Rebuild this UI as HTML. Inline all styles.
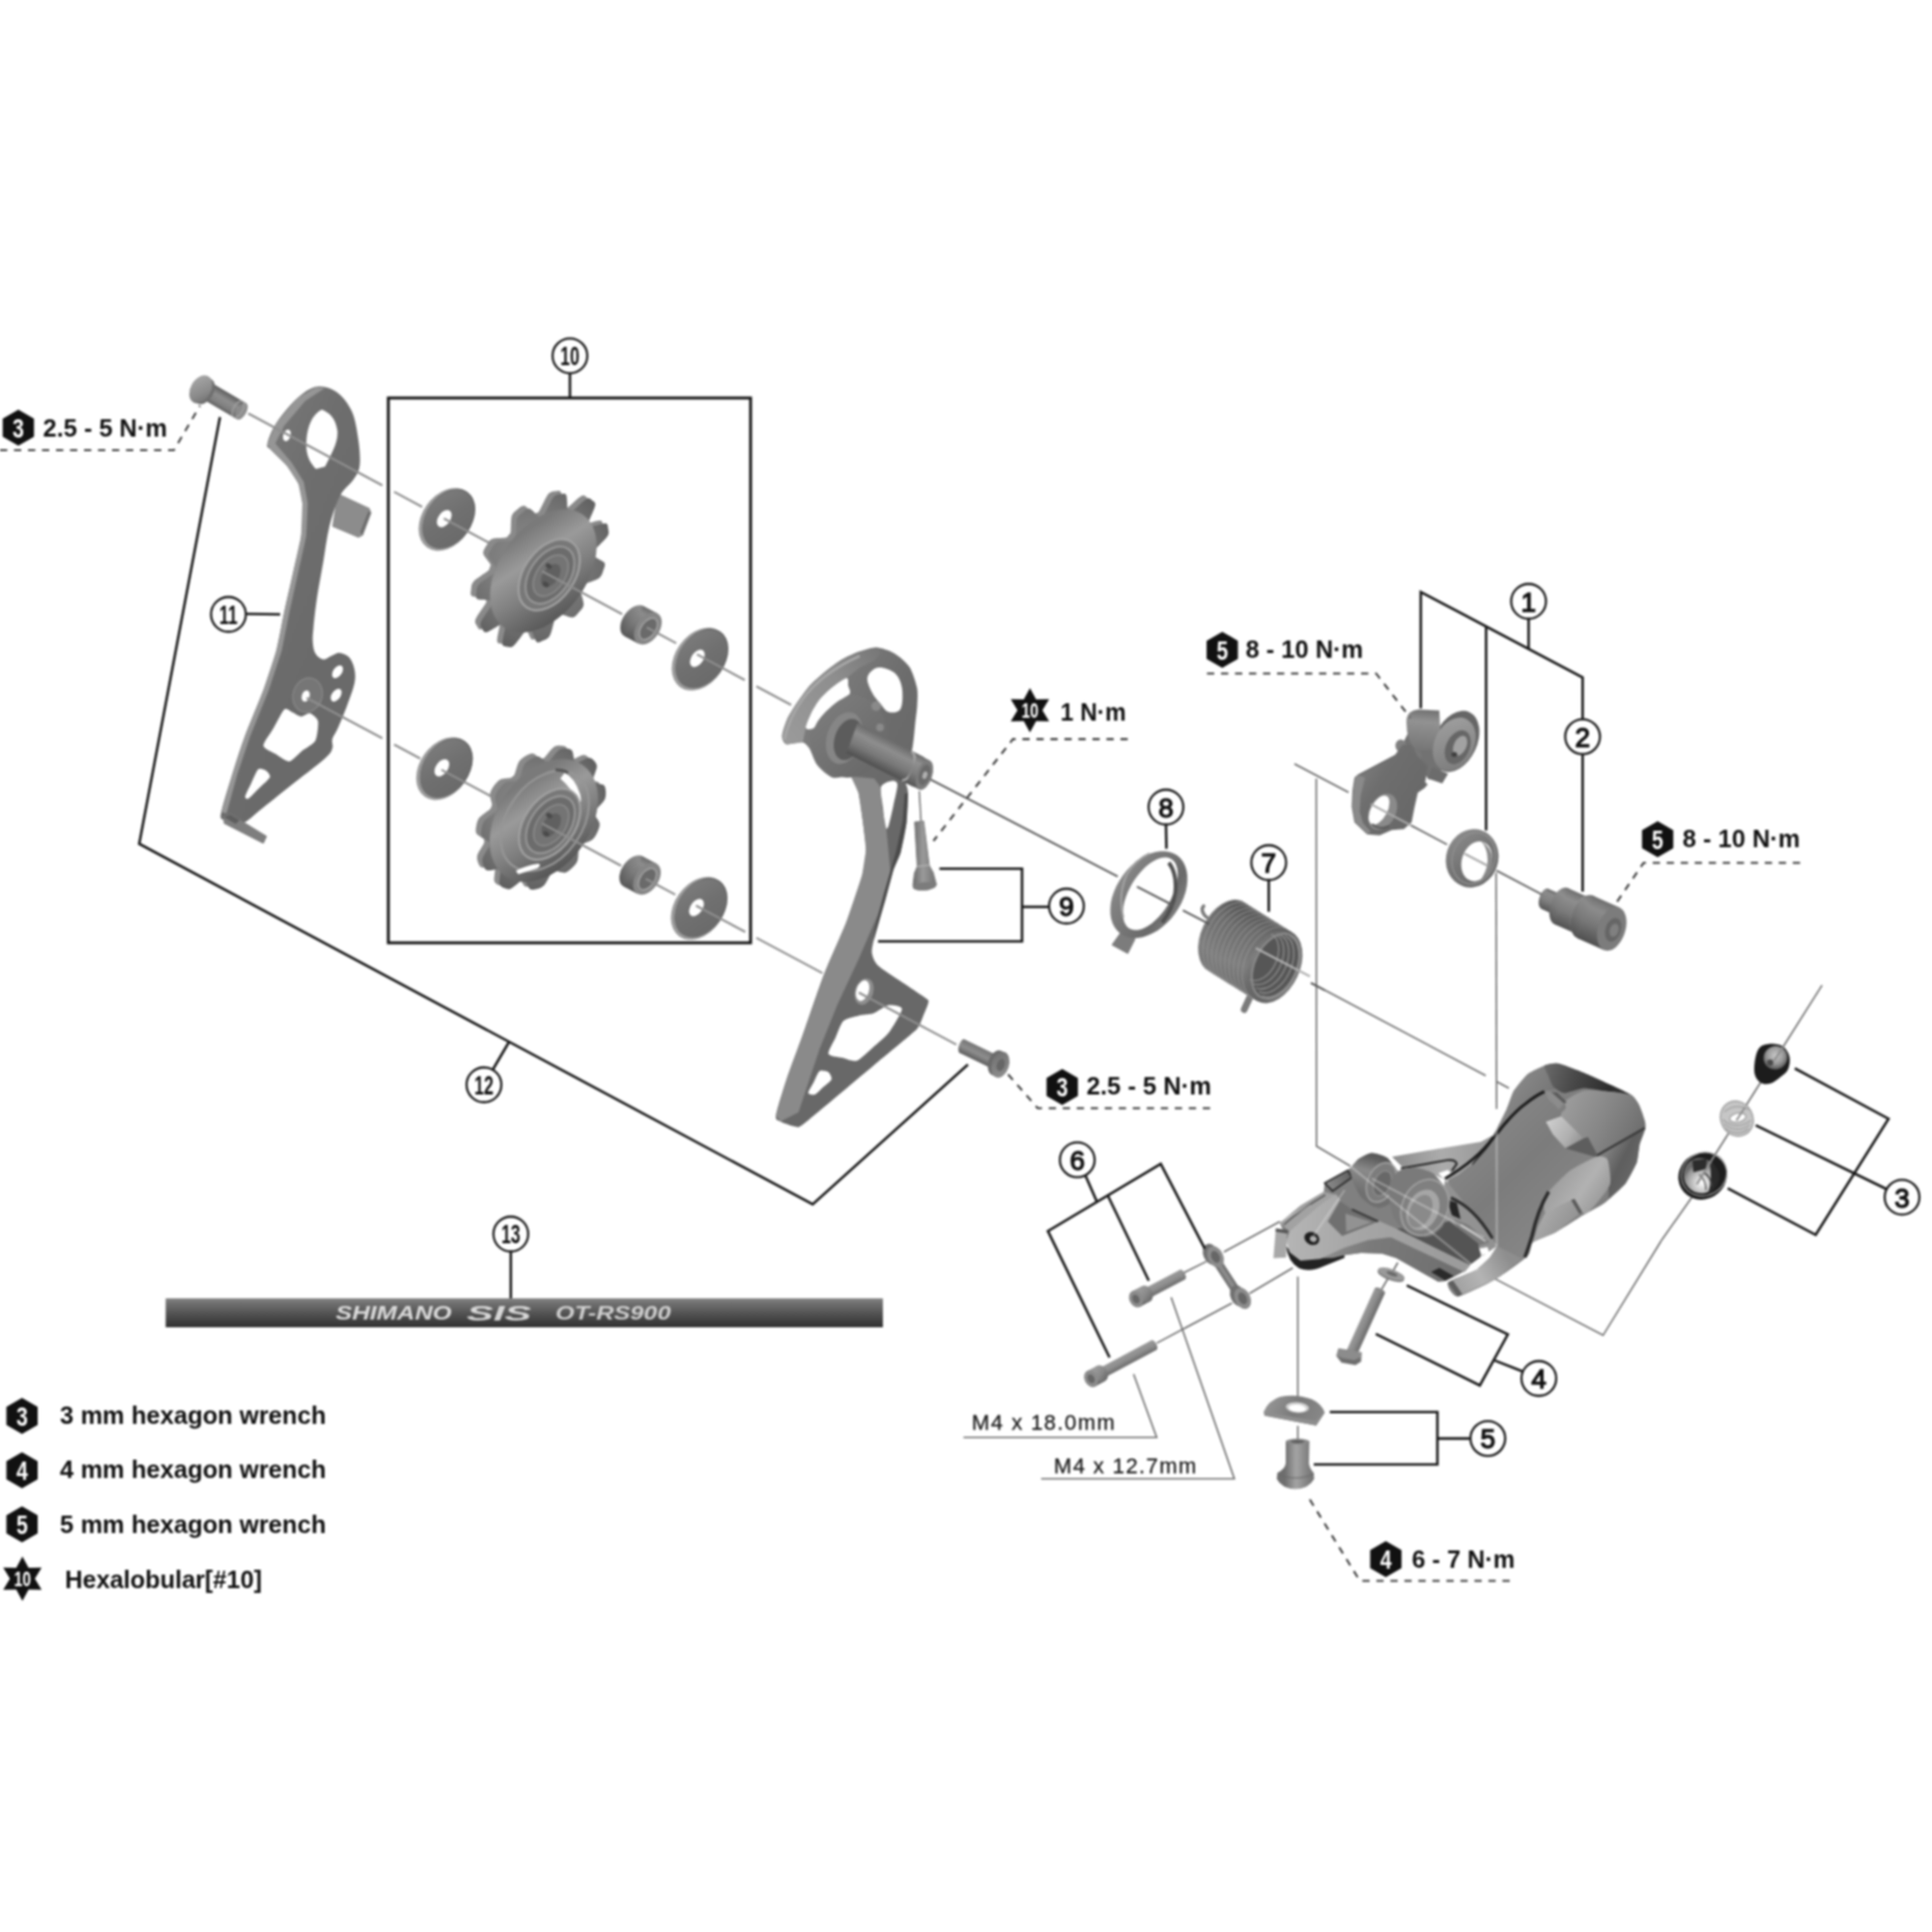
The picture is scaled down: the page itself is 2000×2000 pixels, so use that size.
<!DOCTYPE html>
<html><head><meta charset="utf-8"><title>Rear derailleur exploded view</title>
<style>html,body{margin:0;padding:0;background:#fff}svg{display:block;font-family:"Liberation Sans",sans-serif}</style>
</head><body>
<svg width="2000" height="2000" viewBox="0 0 2000 2000">
<defs><filter id="soft" x="-2%" y="-2%" width="104%" height="104%" color-interpolation-filters="sRGB"><feGaussianBlur stdDeviation="0.8"/></filter>
<linearGradient id="gbtl" gradientUnits="userSpaceOnUse" x1="209.1" y1="412.8" x2="218.9" y2="396.2"><stop offset="0" stop-color="#5e5e5e"/><stop offset="0.25" stop-color="#808080"/><stop offset="0.6" stop-color="#8e8e8e"/><stop offset="1" stop-color="#5c5c5c"/></linearGradient>
<linearGradient id="gbtlh" gradientUnits="userSpaceOnUse" x1="197" y1="395" x2="222" y2="412"><stop offset="0" stop-color="#a6a6a6"/><stop offset="0.6" stop-color="#8a8a8a"/><stop offset="1" stop-color="#6a6a6a"/></linearGradient>
<linearGradient id="gp11" gradientUnits="userSpaceOnUse" x1="230" y1="500" x2="380" y2="560"><stop offset="0" stop-color="#7a7a7a"/><stop offset="0.5" stop-color="#6e6e6e"/><stop offset="1" stop-color="#6a6a6a"/></linearGradient>
<linearGradient id="gw0" gradientUnits="userSpaceOnUse" x1="436.5" y1="527.7" x2="488.5" y2="547.7"><stop offset="0" stop-color="#7c7c7c"/><stop offset="0.5" stop-color="#707070"/><stop offset="1" stop-color="#6a6a6a"/></linearGradient>
<linearGradient id="gw1" gradientUnits="userSpaceOnUse" x1="698.5" y1="672.3" x2="750.5" y2="692.3"><stop offset="0" stop-color="#7c7c7c"/><stop offset="0.5" stop-color="#707070"/><stop offset="1" stop-color="#6a6a6a"/></linearGradient>
<linearGradient id="gw2" gradientUnits="userSpaceOnUse" x1="434.0" y1="785.7" x2="486.0" y2="805.7"><stop offset="0" stop-color="#7c7c7c"/><stop offset="0.5" stop-color="#707070"/><stop offset="1" stop-color="#6a6a6a"/></linearGradient>
<linearGradient id="gw3" gradientUnits="userSpaceOnUse" x1="697.6" y1="930.3" x2="749.6" y2="950.3"><stop offset="0" stop-color="#7c7c7c"/><stop offset="0.5" stop-color="#707070"/><stop offset="1" stop-color="#6a6a6a"/></linearGradient>
<radialGradient id="gp1" gradientUnits="userSpaceOnUse" cx="551.5" cy="582.5" r="89.0" ><stop offset="0" stop-color="#8e8e8e"/><stop offset="0.5" stop-color="#7c7c7c"/><stop offset="0.85" stop-color="#6a6a6a"/><stop offset="1" stop-color="#606060"/></radialGradient>
<linearGradient id="gpb1" gradientUnits="userSpaceOnUse" x1="519.1" y1="580.5" x2="606.7" y2="615.5"><stop offset="0" stop-color="#7a7a7a"/><stop offset="0.3" stop-color="#9a9a9a"/><stop offset="0.6" stop-color="#808080"/><stop offset="1" stop-color="#585858"/></linearGradient>
<radialGradient id="gp2" gradientUnits="userSpaceOnUse" cx="552.0" cy="840.8" r="81.5" ><stop offset="0" stop-color="#8e8e8e"/><stop offset="0.5" stop-color="#7c7c7c"/><stop offset="0.85" stop-color="#6a6a6a"/><stop offset="1" stop-color="#606060"/></radialGradient>
<linearGradient id="gpb2" gradientUnits="userSpaceOnUse" x1="520.4" y1="838.8" x2="606.4" y2="873.8"><stop offset="0" stop-color="#7a7a7a"/><stop offset="0.3" stop-color="#9a9a9a"/><stop offset="0.6" stop-color="#808080"/><stop offset="1" stop-color="#585858"/></linearGradient>
<linearGradient id="gb1" gradientUnits="userSpaceOnUse" x1="647.9" y1="659.5" x2="665.2" y2="626.8"><stop offset="0" stop-color="#555"/><stop offset="0.45" stop-color="#7a7a7a"/><stop offset="0.8" stop-color="#8c8c8c"/><stop offset="1" stop-color="#6a6a6a"/></linearGradient>
<linearGradient id="gb2" gradientUnits="userSpaceOnUse" x1="646.9" y1="918.5" x2="664.2" y2="885.8"><stop offset="0" stop-color="#555"/><stop offset="0.45" stop-color="#7a7a7a"/><stop offset="0.8" stop-color="#8c8c8c"/><stop offset="1" stop-color="#6a6a6a"/></linearGradient>
<linearGradient id="gcage" gradientUnits="userSpaceOnUse" x1="800" y1="700" x2="960" y2="780"><stop offset="0" stop-color="#8a8a8a"/><stop offset="0.35" stop-color="#7a7a7a"/><stop offset="0.7" stop-color="#6c6c6c"/><stop offset="1" stop-color="#686868"/></linearGradient>
<linearGradient id="grim" gradientUnits="userSpaceOnUse" x1="810" y1="760" x2="910" y2="675"><stop offset="0" stop-color="#9a9a9a"/><stop offset="0.6" stop-color="#8e8e8e"/><stop offset="1" stop-color="#787878"/></linearGradient>
<linearGradient id="gboss" gradientUnits="userSpaceOnUse" x1="840" y1="740" x2="920" y2="800"><stop offset="0" stop-color="#7c7c7c"/><stop offset="1" stop-color="#666"/></linearGradient>
<linearGradient id="gshaft" gradientUnits="userSpaceOnUse" x1="874.5" y1="778.7" x2="889.5" y2="749.3"><stop offset="0" stop-color="#4e4e4e"/><stop offset="0.35" stop-color="#787878"/><stop offset="0.7" stop-color="#8e8e8e"/><stop offset="1" stop-color="#6a6a6a"/></linearGradient>
<linearGradient id="gshaft2" gradientUnits="userSpaceOnUse" x1="936.7" y1="809.8" x2="951.3" y2="781.4"><stop offset="0" stop-color="#555"/><stop offset="0.4" stop-color="#7e7e7e"/><stop offset="0.75" stop-color="#909090"/><stop offset="1" stop-color="#6e6e6e"/></linearGradient>
<linearGradient id="gs9" gradientUnits="userSpaceOnUse" x1="945" y1="0" x2="966" y2="0"><stop offset="0" stop-color="#6a6a6a"/><stop offset="0.5" stop-color="#9a9a9a"/><stop offset="1" stop-color="#7a7a7a"/></linearGradient>
<linearGradient id="gbbr" gradientUnits="userSpaceOnUse" x1="992.7" y1="1089.7" x2="999.3" y2="1076.3"><stop offset="0" stop-color="#5a5a5a"/><stop offset="0.5" stop-color="#8e8e8e"/><stop offset="1" stop-color="#747474"/></linearGradient>
<linearGradient id="gbbrh" gradientUnits="userSpaceOnUse" x1="1024" y1="1090" x2="1046" y2="1112"><stop offset="0" stop-color="#6e6e6e"/><stop offset="1" stop-color="#8e8e8e"/></linearGradient>
<linearGradient id="gr8" gradientUnits="userSpaceOnUse" x1="1150" y1="900" x2="1230" y2="950"><stop offset="0" stop-color="#969696"/><stop offset="0.25" stop-color="#808080"/><stop offset="0.7" stop-color="#6a6a6a"/><stop offset="1" stop-color="#8c8c8c"/></linearGradient>
<linearGradient id="gsp" gradientUnits="userSpaceOnUse" x1="1290" y1="935" x2="1260" y2="1035"><stop offset="0" stop-color="#4e4e4e"/><stop offset="0.25" stop-color="#6c6c6c"/><stop offset="0.6" stop-color="#7e7e7e"/><stop offset="1" stop-color="#5c5c5c"/></linearGradient>
<linearGradient id="gbl" gradientUnits="userSpaceOnUse" x1="1400" y1="800" x2="1480" y2="850"><stop offset="0" stop-color="#7e7e7e"/><stop offset="0.3" stop-color="#6e6e6e"/><stop offset="1" stop-color="#666"/></linearGradient>
<linearGradient id="gblb" gradientUnits="userSpaceOnUse" x1="1470" y1="733" x2="1466" y2="778"><stop offset="0" stop-color="#6e6e6e"/><stop offset="0.3" stop-color="#929292"/><stop offset="1" stop-color="#747474"/></linearGradient>
<linearGradient id="gblf" gradientUnits="userSpaceOnUse" x1="1487" y1="750" x2="1527" y2="795"><stop offset="0" stop-color="#9e9e9e"/><stop offset="1" stop-color="#7a7a7a"/></linearGradient>
<linearGradient id="gseal" gradientUnits="userSpaceOnUse" x1="1497" y1="870" x2="1550" y2="910"><stop offset="0" stop-color="#8c8c8c"/><stop offset="0.5" stop-color="#747474"/><stop offset="1" stop-color="#6a6a6a"/></linearGradient>
<linearGradient id="gb2a" gradientUnits="userSpaceOnUse" x1="1594.5" y1="940.3" x2="1603.5" y2="920.3"><stop offset="0" stop-color="#555"/><stop offset="0.45" stop-color="#808080"/><stop offset="0.8" stop-color="#8c8c8c"/><stop offset="1" stop-color="#6a6a6a"/></linearGradient>
<linearGradient id="gb2b" gradientUnits="userSpaceOnUse" x1="1607.9" y1="956.3" x2="1624.1" y2="919.7"><stop offset="0" stop-color="#505050"/><stop offset="0.4" stop-color="#7a7a7a"/><stop offset="0.75" stop-color="#8e8e8e"/><stop offset="1" stop-color="#6e6e6e"/></linearGradient>
<linearGradient id="gb2c" gradientUnits="userSpaceOnUse" x1="1631.4" y1="970.7" x2="1650.6" y2="927.7"><stop offset="0" stop-color="#4e4e4e"/><stop offset="0.4" stop-color="#767676"/><stop offset="0.75" stop-color="#8c8c8c"/><stop offset="1" stop-color="#6e6e6e"/></linearGradient>
<linearGradient id="ghood" gradientUnits="userSpaceOnUse" x1="1520" y1="1150" x2="1660" y2="1290"><stop offset="0" stop-color="#8a8a8a"/><stop offset="0.4" stop-color="#7c7c7c"/><stop offset="0.75" stop-color="#868686"/><stop offset="1" stop-color="#6a6a6a"/></linearGradient>
<linearGradient id="gdome" gradientUnits="userSpaceOnUse" x1="1560" y1="1110" x2="1620" y2="1150"><stop offset="0" stop-color="#8e8e8e"/><stop offset="1" stop-color="#6c6c6c"/></linearGradient>
<linearGradient id="gband" gradientUnits="userSpaceOnUse" x1="1595" y1="1105" x2="1690" y2="1135"><stop offset="0" stop-color="#6e6e6e"/><stop offset="0.35" stop-color="#4a4a4a"/><stop offset="0.75" stop-color="#2c2c2c"/><stop offset="1" stop-color="#3a3a3a"/></linearGradient>
<linearGradient id="gface" gradientUnits="userSpaceOnUse" x1="1620" y1="1140" x2="1700" y2="1180"><stop offset="0" stop-color="#9c9c9c"/><stop offset="0.5" stop-color="#868686"/><stop offset="1" stop-color="#6c6c6c"/></linearGradient>
<linearGradient id="grl" gradientUnits="userSpaceOnUse" x1="1660" y1="1200" x2="1700" y2="1220"><stop offset="0" stop-color="#7e7e7e"/><stop offset="0.4" stop-color="#5e5e5e"/><stop offset="1" stop-color="#6c6c6c"/></linearGradient>
<linearGradient id="gll" gradientUnits="userSpaceOnUse" x1="1610" y1="1210" x2="1670" y2="1250"><stop offset="0" stop-color="#9a9a9a"/><stop offset="0.5" stop-color="#b2b2b2"/><stop offset="1" stop-color="#8c8c8c"/></linearGradient>
<linearGradient id="gtab" gradientUnits="userSpaceOnUse" x1="1600" y1="1160" x2="1640" y2="1185"><stop offset="0" stop-color="#d0d0d0"/><stop offset="0.6" stop-color="#b0b0b0"/><stop offset="1" stop-color="#8a8a8a"/></linearGradient>
<linearGradient id="gltab" gradientUnits="userSpaceOnUse" x1="1590" y1="1250" x2="1635" y2="1280"><stop offset="0" stop-color="#b0b0b0"/><stop offset="1" stop-color="#8a8a8a"/></linearGradient>
<linearGradient id="gbot" gradientUnits="userSpaceOnUse" x1="1500" y1="1335" x2="1560" y2="1300"><stop offset="0" stop-color="#9c9c9c"/><stop offset="0.5" stop-color="#b4b4b4"/><stop offset="1" stop-color="#8e8e8e"/></linearGradient>
<linearGradient id="gbnd" gradientUnits="userSpaceOnUse" x1="1440" y1="1195" x2="1545" y2="1185"><stop offset="0" stop-color="#8c8c8c"/><stop offset="0.5" stop-color="#acacac"/><stop offset="1" stop-color="#969696"/></linearGradient>
<linearGradient id="gfw" gradientUnits="userSpaceOnUse" x1="1380" y1="1290" x2="1500" y2="1320"><stop offset="0" stop-color="#8a8a8a"/><stop offset="0.3" stop-color="#7a7a7a"/><stop offset="1" stop-color="#707070"/></linearGradient>
<linearGradient id="garm" gradientUnits="userSpaceOnUse" x1="1335" y1="1290" x2="1500" y2="1300"><stop offset="0" stop-color="#b4b4b4"/><stop offset="0.4" stop-color="#a6a6a6"/><stop offset="1" stop-color="#9c9c9c"/></linearGradient>
<linearGradient id="gupl" gradientUnits="userSpaceOnUse" x1="1372" y1="1228" x2="1400" y2="1215"><stop offset="0" stop-color="#8c8c8c"/><stop offset="1" stop-color="#606060"/></linearGradient>
<linearGradient id="gc1" gradientUnits="userSpaceOnUse" x1="1412" y1="1195" x2="1402" y2="1232"><stop offset="0" stop-color="#5a5a5a"/><stop offset="0.4" stop-color="#8a8a8a"/><stop offset="1" stop-color="#707070"/></linearGradient>
<radialGradient id="g3a" gradientUnits="userSpaceOnUse" cx="1839" cy="1093" r="14" ><stop offset="0" stop-color="#c8c8c8"/><stop offset="0.6" stop-color="#9a9a9a"/><stop offset="1" stop-color="#5a5a5a"/></radialGradient>
<radialGradient id="g3c" gradientUnits="userSpaceOnUse" cx="1758" cy="1224" r="20" ><stop offset="0" stop-color="#ffffff"/><stop offset="0.35" stop-color="#d4d4d4"/><stop offset="0.8" stop-color="#9a9a9a"/><stop offset="1" stop-color="#6a6a6a"/></radialGradient>
<linearGradient id="gp4" gradientUnits="userSpaceOnUse" x1="1423.2" y1="1333.6" x2="1433.8" y2="1338.4"><stop offset="0" stop-color="#9a9a9a"/><stop offset="0.5" stop-color="#8a8a8a"/><stop offset="1" stop-color="#6a6a6a"/></linearGradient>
<linearGradient id="gp5" gradientUnits="userSpaceOnUse" x1="1310" y1="1445" x2="1370" y2="1475"><stop offset="0" stop-color="#9a9a9a"/><stop offset="0.5" stop-color="#7a7a7a"/><stop offset="1" stop-color="#8a8a8a"/></linearGradient>
<linearGradient id="gp5b" gradientUnits="userSpaceOnUse" x1="1330" y1="0" x2="1356" y2="0"><stop offset="0" stop-color="#6e6e6e"/><stop offset="0.45" stop-color="#a4a4a4"/><stop offset="1" stop-color="#7a7a7a"/></linearGradient>
<linearGradient id="gs61" gradientUnits="userSpaceOnUse" x1="1184.4" y1="1346.7" x2="1179.2" y2="1336.7"><stop offset="0" stop-color="#6a6a6a"/><stop offset="0.5" stop-color="#8e8e8e"/><stop offset="1" stop-color="#9a9a9a"/></linearGradient>
<linearGradient id="gs6h1" gradientUnits="userSpaceOnUse" x1="1180.7" y1="1352.5" x2="1172.3" y2="1336.5"><stop offset="0" stop-color="#666"/><stop offset="0.5" stop-color="#8a8a8a"/><stop offset="1" stop-color="#9c9c9c"/></linearGradient>
<linearGradient id="gs62" gradientUnits="userSpaceOnUse" x1="1137.9" y1="1429.1" x2="1132.6" y2="1419.2"><stop offset="0" stop-color="#6a6a6a"/><stop offset="0.5" stop-color="#8e8e8e"/><stop offset="1" stop-color="#9a9a9a"/></linearGradient>
<linearGradient id="gs6h2" gradientUnits="userSpaceOnUse" x1="1134.2" y1="1434.9" x2="1125.8" y2="1419.1"><stop offset="0" stop-color="#666"/><stop offset="0.5" stop-color="#8a8a8a"/><stop offset="1" stop-color="#9c9c9c"/></linearGradient>
<linearGradient id="gcab" gradientUnits="userSpaceOnUse" x1="0" y1="1344" x2="0" y2="1374"><stop offset="0" stop-color="#8a8a8a"/><stop offset="0.12" stop-color="#747474"/><stop offset="0.5" stop-color="#555"/><stop offset="1" stop-color="#303030"/></linearGradient>
</defs>
<rect width="2000" height="2000" fill="#fff"/>
<g filter="url(#soft)">
<polyline points="1362.6,806.0 1362.8,1186.5 1398.0,1207.3" fill="none" stroke="#6a6a6a" stroke-width="1.6" />
<polyline points="1530.0,1314.6 1659.5,1382.3 1720.0,1284.0" fill="none" stroke="#6a6a6a" stroke-width="1.6" />
<line x1="1548.7" y1="903.5" x2="1549.3" y2="1148.0" stroke="#6a6a6a" stroke-width="1.6" />
<line x1="1886.2" y1="1019.9" x2="1846.0" y2="1083.5" stroke="#6a6a6a" stroke-width="1.6" />
<line x1="1823.5" y1="1119.0" x2="1806.5" y2="1146.0" stroke="#6a6a6a" stroke-width="1.6" />
<line x1="1790.5" y1="1171.5" x2="1775.0" y2="1196.0" stroke="#6a6a6a" stroke-width="1.6" />
<line x1="1751.0" y1="1240.0" x2="1720.0" y2="1284.0" stroke="#6a6a6a" stroke-width="1.6" />
<line x1="1357.0" y1="1017.5" x2="1372.0" y2="1025.3" stroke="#555" stroke-width="2" />
<line x1="1372.0" y1="1025.3" x2="1538.0" y2="1113.5" stroke="#6a6a6a" stroke-width="1.6" />
<line x1="1549.0" y1="1119.5" x2="1562.0" y2="1126.5" stroke="#6a6a6a" stroke-width="1.6" />
<line x1="1225.6" y1="1317.5" x2="1248.8" y2="1305.9" stroke="#6a6a6a" stroke-width="1.6" />
<line x1="1267.0" y1="1296.0" x2="1325.0" y2="1264.5" stroke="#6a6a6a" stroke-width="1.6" />
<line x1="1197.5" y1="1390.4" x2="1275.3" y2="1349.0" stroke="#6a6a6a" stroke-width="1.6" />
<line x1="1293.5" y1="1339.0" x2="1338.3" y2="1312.5" stroke="#6a6a6a" stroke-width="1.6" />
<line x1="1343.5" y1="1321.5" x2="1343.5" y2="1447.0" stroke="#6a6a6a" stroke-width="1.6" />
<line x1="1343.5" y1="1476.0" x2="1343.5" y2="1491.0" stroke="#6a6a6a" stroke-width="1.6" />
<line x1="1447.0" y1="1307.0" x2="1442.5" y2="1315.0" stroke="#6a6a6a" stroke-width="1.6" />
<line x1="1436.5" y1="1324.0" x2="1430.0" y2="1335.0" stroke="#6a6a6a" stroke-width="1.6" />
<polyline points="997.4,1488.0 1197.4,1488.0 1173.5,1422.4" fill="none" stroke="#6a6a6a" stroke-width="1.6" />
<polyline points="1077.8,1530.7 1277.8,1530.7 1212.4,1343.0" fill="none" stroke="#6a6a6a" stroke-width="1.6" />
<polygon points="209.2,412.8 245.4,434.1 255.0,417.5 218.8,396.2" fill="url(#gbtl)" stroke="none" stroke-width="0" />
<ellipse cx="250.2" cy="425.8" rx="4.8" ry="9.6" transform="rotate(30.0 250.2 425.8)" fill="#8c8c8c" stroke="none" stroke-width="0" />
<ellipse cx="246.5" cy="423.6" rx="4.8" ry="9.4" transform="rotate(30.0 246.5 423.6)" fill="none" stroke="#a4a4a4" stroke-width="1.3" />
<ellipse cx="211.5" cy="405.0" rx="9.5" ry="14.5" transform="rotate(30.0 211.5 405.0)" fill="#6e6e6e" stroke="none" stroke-width="0" />
<ellipse cx="207.8" cy="403.0" rx="10.5" ry="15.5" transform="rotate(30.0 207.8 403.0)" fill="url(#gbtlh)" stroke="none" stroke-width="0" />
<polygon points="350.0,512.0 381.7,526.7 383.5,531.0 375.0,553.6 371.0,555.5 345.0,544.5" fill="#8c8c8c" stroke="#8c8c8c" stroke-width="2" stroke-linejoin="round"/>
<polygon points="373.0,551.0 381.5,529.0 383.5,531.0 375.0,553.6" fill="#6a6a6a" stroke="none" stroke-width="0" />
<path d="M276.7,459.4 C277.6,454.7 280.8,445.9 286.0,438.0 C291.2,430.1 300.7,418.6 307.7,412.3 C314.7,406.0 321.2,401.3 327.9,400.2 C334.6,399.1 341.9,401.3 348.0,405.6 C354.1,409.9 360.4,417.5 364.2,425.8 C368.0,434.1 369.6,446.0 371.0,455.4 C372.4,464.8 373.2,475.4 372.3,482.3 C371.4,489.2 368.9,491.9 365.5,497.0 C362.1,502.1 356.1,505.2 352.0,513.2 C347.9,521.2 343.9,533.5 341.0,545.0 C338.1,556.5 336.8,569.5 334.6,582.0 C332.4,594.5 329.7,608.7 328.0,620.0 C326.3,631.3 325.2,642.6 324.5,650.0 C323.8,657.4 323.5,660.0 323.8,664.4 C324.1,668.8 324.7,673.5 326.5,676.5 C328.3,679.5 331.9,682.2 334.6,682.6 C337.4,683.0 340.1,680.1 343.0,679.0 C345.9,677.9 348.9,675.6 352.0,675.9 C355.1,676.2 359.0,677.8 361.5,680.6 C364.0,683.4 366.0,688.2 366.9,692.7 C367.8,697.2 368.2,701.0 366.9,707.5 C365.5,714.0 361.7,723.9 358.8,731.7 C355.9,739.6 351.9,749.0 349.4,754.6 C346.9,760.2 344.9,761.9 344.0,765.3 C343.1,768.7 345.3,771.4 344.0,774.8 C342.7,778.2 343.3,779.0 336.0,785.5 C328.7,792.0 311.0,805.2 300.0,814.0 C289.0,822.8 277.9,831.8 270.0,838.0 C262.1,844.2 257.5,849.7 252.5,851.5 C247.5,853.3 243.6,849.5 240.0,849.0 C236.4,848.5 232.8,850.2 231.0,848.8 C229.2,847.4 227.4,848.6 229.0,840.7 C230.6,832.9 236.3,814.9 240.4,801.7 C244.5,788.5 248.4,775.9 253.8,761.3 C259.2,746.7 267.3,728.8 272.7,714.2 C278.1,699.6 282.4,687.2 286.0,673.8 C289.6,660.3 291.4,646.6 294.2,633.5 C297.0,620.4 300.1,608.1 303.0,595.0 C305.9,581.9 310.0,567.3 311.7,555.0 C313.4,542.7 313.4,530.3 313.0,521.3 C312.6,512.3 311.7,507.5 309.0,501.0 C306.3,494.5 301.7,488.1 297.0,482.3 C292.3,476.5 284.1,469.8 280.7,466.0 C277.3,462.2 275.8,464.1 276.7,459.4Z M333,424 C341,427 347.5,433 349.3,446 C350.3,458 343,470 336.5,483 L327,485.5 C320,478 316,470 317.3,455 C318.3,442 323,429 333,424 Z M294.2,734.4 C292.0,736.4 285.5,749.6 283.0,754.0 C280.5,758.4 272.3,769.0 272.7,772.1 C273.1,775.2 282.9,779.1 286.0,781.0 C289.1,782.9 296.5,788.7 299.6,788.2 C302.8,787.7 309.9,779.5 313.0,777.0 C316.1,774.5 324.6,770.3 326.5,766.7 C328.4,763.1 329.8,749.8 329.2,746.5 C328.6,743.2 323.0,738.9 321.0,738.4 C319.0,737.9 313.9,742.0 311.7,741.8 C309.5,741.6 304.0,737.9 302.0,737.0 C300.0,736.1 296.4,732.4 294.2,734.4Z M267.3,796.3 C265.6,797.9 261.6,807.7 260.0,811.0 C258.4,814.3 254.1,822.8 253.8,824.6 C253.5,826.4 255.8,827.5 257.5,826.5 C259.2,825.5 265.4,818.6 268.0,816.0 C270.6,813.4 278.6,806.6 279.4,804.4 C280.2,802.2 276.4,798.4 275.0,797.5 C273.6,796.6 269.1,794.7 267.3,796.3Z" fill="url(#gp11)" stroke="none" stroke-width="0" fill-rule="evenodd"/>
<polygon points="276.7,459.4 286.0,438.0 307.7,412.3 327.9,400.2 336.0,402.0 316.0,415.0 294.0,441.0 285.0,459.0 302.0,479.0 314.5,499.0 318.5,521.0 317.0,555.0 299.5,634.0 291.5,674.0 278.0,715.0 259.0,762.0 245.5,802.0 234.5,842.0 229.0,840.7 240.4,801.7 253.8,761.3 272.7,714.2 286.0,673.8 294.2,633.5 311.7,555.0 313.0,521.3 309.0,501.0 297.0,482.3 280.7,466.0" fill="#969696" stroke="none" stroke-width="0" />
<ellipse cx="297.0" cy="450.7" rx="3.8" ry="6.2" transform="rotate(18.0 297.0 450.7)" fill="#fff" stroke="none" stroke-width="0" />
<ellipse cx="349.4" cy="695.4" rx="4.5" ry="7.5" transform="rotate(35.0 349.4 695.4)" fill="#fff" stroke="none" stroke-width="0" />
<ellipse cx="348.0" cy="719.6" rx="4.5" ry="7.5" transform="rotate(35.0 348.0 719.6)" fill="#fff" stroke="none" stroke-width="0" />
<ellipse cx="318.4" cy="719.6" rx="15.0" ry="18.0" transform="rotate(18.0 318.4 719.6)" fill="#767676" stroke="#8a8a8a" stroke-width="1.2" />
<ellipse cx="316.5" cy="720.5" rx="4.0" ry="6.0" transform="rotate(18.0 316.5 720.5)" fill="#fff" stroke="none" stroke-width="0" />
<polygon points="232.0,846.0 238.0,843.0 275.5,866.0 272.5,872.5 232.3,852.0" fill="#7e7e7e" stroke="#7e7e7e" stroke-width="1.5" stroke-linejoin="round"/>
<polygon points="232.0,846.0 238.0,843.0 248.0,849.0 244.0,853.0" fill="#5e5e5e" stroke="none" stroke-width="0" />
<ellipse cx="462.5" cy="537.7" rx="25.5" ry="35.5" transform="rotate(35.0 462.5 537.7)" fill="#9c9c9c" stroke="none" stroke-width="0" />
<ellipse cx="464.7" cy="536.9" rx="23.6" ry="33.6" transform="rotate(35.0 464.7 536.9)" fill="#5c5c5c" stroke="none" stroke-width="0" />
<ellipse cx="464.1" cy="537.4" rx="23.2" ry="33.3" transform="rotate(35.0 464.1 537.4)" fill="url(#gw0)" stroke="none" stroke-width="0" />
<ellipse cx="459.9" cy="536.9" rx="6.2" ry="10.0" transform="rotate(35.0 459.9 536.9)" fill="#fff" stroke="none" stroke-width="0" />
<ellipse cx="724.5" cy="682.3" rx="25.5" ry="35.5" transform="rotate(35.0 724.5 682.3)" fill="#9c9c9c" stroke="none" stroke-width="0" />
<ellipse cx="726.7" cy="681.5" rx="23.6" ry="33.6" transform="rotate(35.0 726.7 681.5)" fill="#5c5c5c" stroke="none" stroke-width="0" />
<ellipse cx="726.1" cy="682.0" rx="23.2" ry="33.3" transform="rotate(35.0 726.1 682.0)" fill="url(#gw1)" stroke="none" stroke-width="0" />
<ellipse cx="721.9" cy="681.5" rx="6.2" ry="10.0" transform="rotate(35.0 721.9 681.5)" fill="#fff" stroke="none" stroke-width="0" />
<ellipse cx="460.0" cy="795.7" rx="25.5" ry="35.5" transform="rotate(35.0 460.0 795.7)" fill="#9c9c9c" stroke="none" stroke-width="0" />
<ellipse cx="462.2" cy="794.9" rx="23.6" ry="33.6" transform="rotate(35.0 462.2 794.9)" fill="#5c5c5c" stroke="none" stroke-width="0" />
<ellipse cx="461.6" cy="795.4" rx="23.2" ry="33.3" transform="rotate(35.0 461.6 795.4)" fill="url(#gw2)" stroke="none" stroke-width="0" />
<ellipse cx="457.4" cy="794.9" rx="6.2" ry="10.0" transform="rotate(35.0 457.4 794.9)" fill="#fff" stroke="none" stroke-width="0" />
<ellipse cx="723.6" cy="940.3" rx="25.5" ry="35.5" transform="rotate(35.0 723.6 940.3)" fill="#9c9c9c" stroke="none" stroke-width="0" />
<ellipse cx="725.8" cy="939.5" rx="23.6" ry="33.6" transform="rotate(35.0 725.8 939.5)" fill="#5c5c5c" stroke="none" stroke-width="0" />
<ellipse cx="725.2" cy="940.0" rx="23.2" ry="33.3" transform="rotate(35.0 725.2 940.0)" fill="url(#gw3)" stroke="none" stroke-width="0" />
<ellipse cx="721.0" cy="939.5" rx="6.2" ry="10.0" transform="rotate(35.0 721.0 939.5)" fill="#fff" stroke="none" stroke-width="0" />
<path d="M599.5,601.8 C596.9,603.2 597.7,604.0 597.1,605.0 C596.5,606.0 595.3,606.0 595.5,608.7 C595.8,611.3 599.0,619.6 598.7,622.9 C598.5,626.2 595.7,628.6 594.0,630.6 C592.3,632.6 590.2,635.9 587.3,636.2 C584.5,636.5 577.3,632.9 574.9,632.7 C572.6,632.4 572.7,633.8 571.8,634.5 C570.9,635.2 570.2,634.3 569.0,637.4 C567.8,640.5 565.5,651.6 563.7,655.0 C561.9,658.4 558.9,659.1 556.9,660.1 C554.8,661.0 551.9,663.2 550.0,661.5 C548.1,659.9 545.6,651.1 544.3,649.3 C543.1,647.4 542.4,648.9 541.5,649.1 C540.6,649.2 540.7,647.8 538.4,650.3 C536.1,652.8 529.0,663.2 526.2,665.6 C523.4,668.0 521.2,666.8 519.5,666.5 C517.7,666.1 514.9,666.4 514.6,663.4 C514.3,660.3 517.3,649.1 517.4,646.2 C517.6,643.4 516.5,644.6 515.8,644.1 C515.2,643.7 516.0,642.2 513.3,643.3 C510.7,644.4 501.1,650.8 498.2,651.5 C495.2,652.2 494.6,649.4 493.7,647.8 C492.8,646.3 491.0,644.6 492.3,641.1 C493.7,637.6 501.2,627.6 502.8,624.6 C504.4,621.6 503.0,622.1 502.9,621.2 C502.8,620.3 504.0,619.1 501.8,618.5 C499.7,617.9 490.6,618.3 488.5,617.0 C486.4,615.7 487.4,612.3 487.7,610.0 C487.9,607.7 487.7,604.7 490.3,601.9 C492.9,599.0 502.5,593.3 505.0,591.1 C507.5,589.0 506.5,588.6 506.8,587.5 C507.2,586.4 508.5,586.1 507.5,583.9 C506.6,581.8 500.9,576.0 500.3,573.2 C499.6,570.4 502.0,567.3 503.4,565.0 C504.7,562.8 506.1,559.3 509.1,558.0 C512.1,556.7 520.9,557.1 523.4,556.5 C526.0,555.9 525.6,554.8 526.4,553.9 C527.1,553.0 528.1,553.5 528.6,550.5 C529.1,547.5 528.7,537.4 529.7,533.9 C530.8,530.4 533.8,528.8 535.7,527.2 C537.7,525.7 540.3,522.9 542.8,523.6 C545.2,524.2 550.3,530.7 552.2,531.8 C554.1,532.9 554.4,531.4 555.3,530.9 C556.2,530.5 556.6,531.7 558.4,528.8 C560.2,525.9 565.1,514.7 567.5,511.6 C570.0,508.6 572.6,508.9 574.6,508.5 C576.5,508.2 579.5,507.0 580.7,509.4 C581.8,511.8 581.6,522.2 582.2,524.7 C582.7,527.2 583.7,525.7 584.5,525.9 C585.3,526.1 584.9,527.6 587.4,525.7 C590.0,523.9 598.7,515.1 601.7,513.5 C604.7,511.8 606.1,513.9 607.5,514.9 C608.9,515.9 611.3,516.6 610.7,520.0 C610.2,523.4 604.7,534.5 603.8,537.6 C602.9,540.6 604.2,539.7 604.6,540.5 C605.0,541.2 604.0,542.5 606.5,542.3 C609.0,542.0 618.7,538.5 621.3,538.8 C624.0,539.1 623.8,542.3 624.1,544.3 C624.4,546.3 625.5,548.8 623.4,552.1 C621.4,555.4 612.4,563.6 610.3,566.3 C608.2,569.0 609.4,568.9 609.3,569.9 C609.2,571.0 607.8,571.8 609.5,573.2 C611.1,574.6 618.8,577.4 620.2,579.6 C621.6,581.7 619.9,585.1 619.0,587.5 C618.2,589.8 617.6,593.2 614.7,595.4 C611.8,597.5 602.2,600.3 599.5,601.8Z" fill="#8a8a8a" stroke="none" stroke-width="0" />
<path d="M605.0,604.8 C602.4,606.2 603.2,607.0 602.6,608.0 C602.0,609.0 600.8,609.0 601.0,611.7 C601.3,614.3 604.5,622.6 604.2,625.9 C604.0,629.2 601.2,631.6 599.5,633.6 C597.8,635.6 595.7,638.9 592.8,639.2 C590.0,639.5 582.8,635.9 580.4,635.7 C578.1,635.4 578.2,636.8 577.3,637.5 C576.4,638.2 575.7,637.3 574.5,640.4 C573.3,643.5 571.0,654.6 569.2,658.0 C567.4,661.4 564.4,662.1 562.4,663.1 C560.3,664.0 557.4,666.2 555.5,664.5 C553.6,662.9 551.1,654.1 549.8,652.3 C548.6,650.4 547.9,651.9 547.0,652.1 C546.1,652.2 546.2,650.8 543.9,653.3 C541.6,655.8 534.5,666.2 531.7,668.6 C528.9,671.0 526.7,669.8 525.0,669.5 C523.2,669.1 520.4,669.4 520.1,666.4 C519.8,663.3 522.8,652.1 522.9,649.2 C523.1,646.4 522.0,647.6 521.3,647.1 C520.7,646.7 521.5,645.2 518.8,646.3 C516.2,647.4 506.6,653.8 503.7,654.5 C500.7,655.2 500.1,652.4 499.2,650.8 C498.3,649.3 496.5,647.6 497.8,644.1 C499.2,640.6 506.7,630.6 508.3,627.6 C509.9,624.6 508.5,625.1 508.4,624.2 C508.3,623.3 509.5,622.1 507.3,621.5 C505.2,620.9 496.1,621.3 494.0,620.0 C491.9,618.7 492.9,615.3 493.2,613.0 C493.4,610.7 493.2,607.7 495.8,604.9 C498.4,602.0 508.0,596.3 510.5,594.1 C513.0,592.0 512.0,591.6 512.3,590.5 C512.7,589.4 514.0,589.1 513.0,586.9 C512.1,584.8 506.4,579.0 505.8,576.2 C505.1,573.4 507.5,570.3 508.9,568.0 C510.2,565.8 511.6,562.3 514.6,561.0 C517.6,559.7 526.4,560.1 528.9,559.5 C531.5,558.9 531.1,557.8 531.9,556.9 C532.6,556.0 533.6,556.5 534.1,553.5 C534.6,550.5 534.2,540.4 535.2,536.9 C536.3,533.4 539.3,531.8 541.2,530.2 C543.2,528.7 545.8,525.9 548.3,526.6 C550.7,527.2 555.8,533.7 557.7,534.8 C559.6,535.9 559.9,534.4 560.8,533.9 C561.7,533.5 562.1,534.7 563.9,531.8 C565.7,528.9 570.6,517.7 573.0,514.6 C575.5,511.6 578.1,511.9 580.1,511.5 C582.0,511.2 585.0,510.0 586.2,512.4 C587.3,514.8 587.1,525.2 587.7,527.7 C588.2,530.2 589.2,528.7 590.0,528.9 C590.8,529.1 590.4,530.6 592.9,528.7 C595.5,526.9 604.2,518.1 607.2,516.5 C610.2,514.8 611.6,516.9 613.0,517.9 C614.4,518.9 616.8,519.6 616.2,523.0 C615.7,526.4 610.2,537.5 609.3,540.6 C608.4,543.6 609.7,542.7 610.1,543.5 C610.5,544.2 609.5,545.5 612.0,545.3 C614.5,545.0 624.2,541.5 626.8,541.8 C629.5,542.1 629.3,545.3 629.6,547.3 C629.9,549.3 631.0,551.8 628.9,555.1 C626.9,558.4 617.9,566.6 615.8,569.3 C613.7,572.0 614.9,571.9 614.8,572.9 C614.7,574.0 613.3,574.8 615.0,576.2 C616.6,577.6 624.3,580.4 625.7,582.6 C627.1,584.7 625.4,588.1 624.5,590.5 C623.7,592.8 623.1,596.2 620.2,598.4 C617.3,600.5 607.7,603.3 605.0,604.8Z" fill="url(#gp1)" stroke="none" stroke-width="0" />
<ellipse cx="562.5" cy="591.0" rx="45.2" ry="71.2" transform="rotate(35.0 562.5 591.0)" fill="url(#gpb1)" stroke="none" stroke-width="0" />
<ellipse cx="568.5" cy="595.0" rx="26.0" ry="41.0" transform="rotate(35.0 568.5 595.0)" fill="#787878" stroke="#a2a2a2" stroke-width="2.2" />
<ellipse cx="569.3" cy="595.4" rx="20.5" ry="33.0" transform="rotate(35.0 569.3 595.4)" fill="#6c6c6c" stroke="#989898" stroke-width="2" />
<ellipse cx="570.1" cy="595.8" rx="14.5" ry="24.0" transform="rotate(35.0 570.1 595.8)" fill="#747474" stroke="#8c8c8c" stroke-width="1.5" />
<ellipse cx="570.1" cy="595.8" rx="8.0" ry="13.5" transform="rotate(35.0 570.1 595.8)" fill="#606060" stroke="none" stroke-width="0" />
<ellipse cx="568.0" cy="586.0" rx="3.5" ry="2.5" transform="rotate(35.0 568.0 586.0)" fill="#4a4a4a" stroke="none" stroke-width="0" />
<ellipse cx="565.0" cy="605.0" rx="3.5" ry="2.5" transform="rotate(35.0 565.0 605.0)" fill="#4a4a4a" stroke="none" stroke-width="0" />
<path d="M597.1,870.9 C595.2,872.0 595.4,872.4 594.9,873.2 C594.3,874.0 593.8,873.9 593.4,876.1 C593.1,878.4 593.3,885.1 592.3,888.0 C591.3,890.9 588.5,893.7 586.6,895.5 C584.6,897.4 581.8,899.9 579.3,900.4 C576.7,900.8 571.6,898.7 569.8,898.5 C568.0,898.4 567.9,899.0 567.2,899.5 C566.4,899.9 566.1,899.5 564.8,901.5 C563.4,903.6 560.1,910.8 558.0,913.2 C555.8,915.5 552.7,916.6 550.5,917.2 C548.3,917.9 545.2,918.7 543.4,917.5 C541.5,916.3 539.3,910.7 538.2,909.4 C537.1,908.1 536.8,908.7 536.1,908.7 C535.4,908.6 535.4,908.0 533.5,909.3 C531.5,910.5 525.8,915.9 523.2,916.9 C520.6,918.0 518.1,917.0 516.4,916.3 C514.6,915.5 512.2,914.3 511.6,911.9 C511.1,909.4 512.5,902.2 512.5,900.1 C512.4,898.0 511.9,898.4 511.5,897.9 C511.0,897.4 511.4,896.8 509.5,896.8 C507.6,896.9 501.2,898.7 499.0,898.1 C496.8,897.5 495.7,894.9 494.9,892.9 C494.2,891.0 493.3,888.2 494.2,885.3 C495.0,882.4 499.6,875.7 500.7,873.5 C501.7,871.3 501.2,871.4 501.1,870.6 C501.1,869.8 501.6,869.4 500.4,868.2 C499.2,867.0 494.2,864.7 493.1,862.7 C492.0,860.6 492.6,857.1 493.1,854.6 C493.6,852.2 494.4,848.6 496.5,846.1 C498.5,843.7 504.8,839.8 506.6,838.2 C508.4,836.6 508.0,836.3 508.4,835.4 C508.8,834.6 509.3,834.5 509.2,832.4 C509.0,830.4 506.9,824.7 507.2,821.9 C507.6,819.0 509.8,815.8 511.3,813.5 C512.9,811.3 515.3,808.1 517.8,806.9 C520.4,805.7 526.4,805.7 528.4,805.2 C530.4,804.7 530.3,804.2 530.9,803.5 C531.6,802.9 532.0,803.2 532.9,800.9 C533.9,798.7 535.4,791.4 537.1,788.7 C538.7,785.9 541.8,784.0 543.9,782.7 C546.1,781.4 549.2,779.6 551.5,780.0 C553.8,780.4 557.6,784.4 559.1,785.2 C560.6,786.0 560.8,785.3 561.6,785.1 C562.3,784.9 562.5,785.4 564.2,783.7 C565.9,782.0 570.6,775.4 573.1,773.6 C575.5,771.9 578.5,771.8 580.5,771.9 C582.6,771.9 585.5,772.1 586.7,774.0 C588.0,775.9 588.4,782.6 589.0,784.4 C589.5,786.2 590.0,785.6 590.6,785.9 C591.2,786.2 591.0,786.8 593.0,786.1 C595.0,785.5 601.3,781.7 603.8,781.5 C606.3,781.2 608.2,783.1 609.5,784.5 C610.8,785.9 612.5,788.0 612.4,790.8 C612.2,793.6 609.1,800.8 608.5,803.1 C608.0,805.3 608.6,805.1 608.8,805.7 C609.1,806.4 608.6,806.9 610.2,807.5 C611.8,808.2 617.8,808.4 619.5,809.8 C621.2,811.1 621.5,814.3 621.6,816.6 C621.7,818.9 621.8,822.3 620.3,825.1 C618.8,827.9 613.1,833.3 611.6,835.3 C610.1,837.3 610.6,837.4 610.4,838.3 C610.2,839.2 609.7,839.4 610.4,841.1 C611.1,842.8 614.8,846.9 615.2,849.5 C615.6,852.0 614.2,855.5 613.1,858.0 C612.0,860.5 610.3,864.0 607.9,865.9 C605.5,867.8 599.1,869.8 597.1,870.9Z" fill="#8a8a8a" stroke="none" stroke-width="0" />
<path d="M602.6,873.9 C600.7,875.0 600.9,875.4 600.4,876.2 C599.8,877.0 599.3,876.9 598.9,879.1 C598.6,881.4 598.8,888.1 597.8,891.0 C596.8,893.9 594.0,896.7 592.1,898.5 C590.1,900.4 587.3,902.9 584.8,903.4 C582.2,903.8 577.1,901.7 575.3,901.5 C573.5,901.4 573.4,902.0 572.7,902.5 C571.9,902.9 571.6,902.5 570.3,904.5 C568.9,906.6 565.6,913.8 563.5,916.2 C561.3,918.5 558.2,919.6 556.0,920.2 C553.8,920.9 550.7,921.7 548.9,920.5 C547.0,919.3 544.8,913.7 543.7,912.4 C542.6,911.1 542.3,911.7 541.6,911.7 C540.9,911.6 540.9,911.0 539.0,912.3 C537.0,913.5 531.3,918.9 528.7,919.9 C526.1,921.0 523.6,920.0 521.9,919.3 C520.1,918.5 517.7,917.3 517.1,914.9 C516.6,912.4 518.0,905.2 518.0,903.1 C517.9,901.0 517.4,901.4 517.0,900.9 C516.5,900.4 516.9,899.8 515.0,899.8 C513.1,899.9 506.7,901.7 504.5,901.1 C502.3,900.5 501.2,897.9 500.4,895.9 C499.7,894.0 498.8,891.2 499.7,888.3 C500.5,885.4 505.1,878.7 506.2,876.5 C507.2,874.3 506.7,874.4 506.6,873.6 C506.6,872.8 507.1,872.4 505.9,871.2 C504.7,870.0 499.7,867.7 498.6,865.7 C497.5,863.6 498.1,860.1 498.6,857.6 C499.1,855.2 499.9,851.6 502.0,849.1 C504.0,846.7 510.3,842.8 512.1,841.2 C513.9,839.6 513.5,839.3 513.9,838.4 C514.3,837.6 514.8,837.5 514.7,835.4 C514.5,833.4 512.4,827.7 512.7,824.9 C513.1,822.0 515.3,818.8 516.8,816.5 C518.4,814.3 520.8,811.1 523.3,809.9 C525.9,808.7 531.9,808.7 533.9,808.2 C535.9,807.7 535.8,807.2 536.4,806.5 C537.1,805.9 537.5,806.2 538.4,803.9 C539.4,801.7 540.9,794.4 542.6,791.7 C544.2,788.9 547.3,787.0 549.4,785.7 C551.6,784.4 554.7,782.6 557.0,783.0 C559.3,783.4 563.1,787.4 564.6,788.2 C566.1,789.0 566.3,788.3 567.1,788.1 C567.8,787.9 568.0,788.4 569.7,786.7 C571.4,785.0 576.1,778.4 578.6,776.6 C581.0,774.9 584.0,774.8 586.0,774.9 C588.1,774.9 591.0,775.1 592.2,777.0 C593.5,778.9 593.9,785.6 594.5,787.4 C595.0,789.2 595.5,788.6 596.1,788.9 C596.7,789.2 596.5,789.8 598.5,789.1 C600.5,788.5 606.8,784.7 609.3,784.5 C611.8,784.2 613.7,786.1 615.0,787.5 C616.3,788.9 618.0,791.0 617.9,793.8 C617.7,796.6 614.6,803.8 614.0,806.1 C613.5,808.3 614.1,808.1 614.3,808.7 C614.6,809.4 614.1,809.9 615.7,810.5 C617.3,811.2 623.3,811.4 625.0,812.8 C626.7,814.1 627.0,817.3 627.1,819.6 C627.2,821.9 627.3,825.3 625.8,828.1 C624.3,830.9 618.6,836.3 617.1,838.3 C615.6,840.3 616.1,840.4 615.9,841.3 C615.7,842.2 615.2,842.4 615.9,844.1 C616.6,845.8 620.3,849.9 620.7,852.5 C621.1,855.0 619.7,858.5 618.6,861.0 C617.5,863.5 615.8,867.0 613.4,868.9 C611.0,870.8 604.6,872.8 602.6,873.9Z" fill="url(#gp2)" stroke="none" stroke-width="0" />
<ellipse cx="563.0" cy="849.3" rx="47.7" ry="70.1" transform="rotate(35.0 563.0 849.3)" fill="url(#gpb2)" stroke="none" stroke-width="0" />
<ellipse cx="564.0" cy="849.8" rx="38.8" ry="57.0" transform="rotate(35.0 564.0 849.8)" fill="none" stroke="#969696" stroke-width="2.2" />
<path d="M584.5,800 Q595,805 600.5,822 Q603,832 598.5,830.5 Q591,815 580,806 Z" fill="#fff" stroke="none" stroke-width="0" />
<path d="M534,901.5 Q545,895.5 557.5,894 Q561,896 556,899 Q546,902 536.5,905 Z" fill="#fff" stroke="none" stroke-width="0" />
<path d="M575,797 Q583,797 588,800" fill="none" stroke="#555" stroke-width="3" />
<ellipse cx="569.0" cy="853.3" rx="26.0" ry="41.0" transform="rotate(35.0 569.0 853.3)" fill="#787878" stroke="#a2a2a2" stroke-width="2.2" />
<ellipse cx="569.8" cy="853.7" rx="20.5" ry="33.0" transform="rotate(35.0 569.8 853.7)" fill="#6c6c6c" stroke="#989898" stroke-width="2" />
<ellipse cx="570.6" cy="854.1" rx="14.5" ry="24.0" transform="rotate(35.0 570.6 854.1)" fill="#747474" stroke="#8c8c8c" stroke-width="1.5" />
<ellipse cx="570.6" cy="854.1" rx="8.0" ry="13.5" transform="rotate(35.0 570.6 854.1)" fill="#606060" stroke="none" stroke-width="0" />
<ellipse cx="568.5" cy="844.3" rx="3.5" ry="2.5" transform="rotate(35.0 568.5 844.3)" fill="#4a4a4a" stroke="none" stroke-width="0" />
<ellipse cx="565.5" cy="863.3" rx="3.5" ry="2.5" transform="rotate(35.0 565.5 863.3)" fill="#4a4a4a" stroke="none" stroke-width="0" />
<ellipse cx="656.5" cy="643.1" rx="11.8" ry="18.5" transform="rotate(35.0 656.5 643.1)" fill="url(#gb1)" stroke="none" stroke-width="0" />
<polygon points="646.7,658.8 660.8,666.3 680.5,635.0 666.4,627.5" fill="url(#gb1)" stroke="none" stroke-width="0" />
<ellipse cx="670.7" cy="650.7" rx="11.8" ry="18.5" transform="rotate(35.0 670.7 650.7)" fill="#868686" stroke="none" stroke-width="0" />
<ellipse cx="671.2" cy="651.0" rx="7.5" ry="12.5" transform="rotate(35.0 671.2 651.0)" fill="#6a6a6a" stroke="#a4a4a4" stroke-width="1.5" />
<ellipse cx="655.5" cy="902.1" rx="11.8" ry="18.5" transform="rotate(35.0 655.5 902.1)" fill="url(#gb2)" stroke="none" stroke-width="0" />
<polygon points="645.7,917.8 659.8,925.3 679.5,894.0 665.4,886.5" fill="url(#gb2)" stroke="none" stroke-width="0" />
<ellipse cx="669.7" cy="909.7" rx="11.8" ry="18.5" transform="rotate(35.0 669.7 909.7)" fill="#868686" stroke="none" stroke-width="0" />
<ellipse cx="670.2" cy="910.0" rx="7.5" ry="12.5" transform="rotate(35.0 670.2 910.0)" fill="#6a6a6a" stroke="#a4a4a4" stroke-width="1.5" />
<path d="M809.5,761.8 C809.7,758.3 812.9,748.6 815.0,744.0 C817.1,739.4 821.9,732.1 825.0,727.6 C828.1,723.1 834.1,714.3 838.0,710.0 C841.9,705.7 850.1,698.6 854.5,695.0 C858.9,691.4 866.4,685.7 871.0,683.0 C875.6,680.3 883.9,676.5 888.7,674.8 C893.5,673.1 902.3,670.0 907.3,670.2 C912.3,670.4 921.4,673.7 926.0,676.4 C930.6,679.1 938.4,685.6 941.5,690.4 C944.6,695.2 948.2,706.8 949.3,712.1 C950.4,717.4 949.7,725.4 949.5,730.0 C949.3,734.6 948.4,740.4 947.7,746.3 C947.0,752.2 945.9,767.7 944.6,774.2 C943.3,780.7 939.0,790.5 938.0,795.0 C937.0,799.5 936.7,804.6 937.0,808.0 C937.3,811.4 939.8,814.9 940.0,820.8 C940.2,826.7 939.4,843.6 938.4,851.9 C937.4,860.2 934.0,876.5 932.2,882.9 C930.4,889.3 927.1,893.6 925.0,900.0 C922.9,906.4 918.6,923.9 916.6,931.0 C914.6,938.1 911.7,947.2 910.0,953.0 C908.3,958.8 905.2,970.0 904.2,974.5 C903.2,979.0 902.1,983.7 902.7,987.0 C903.3,990.3 905.0,995.6 908.9,999.4 C912.8,1003.2 925.4,1011.0 932.0,1015.5 C938.6,1020.0 954.7,1030.5 958.6,1033.5 C962.5,1036.5 961.2,1035.9 960.9,1038.2 C960.6,1040.5 957.3,1047.7 956.0,1051.0 C954.7,1054.3 952.5,1060.4 950.8,1063.0 C949.1,1065.6 949.1,1065.5 943.0,1070.8 C936.9,1076.1 915.0,1094.1 905.0,1102.5 C895.0,1110.9 877.8,1125.3 868.0,1133.5 C858.2,1141.7 837.1,1159.6 831.2,1164.0 C825.3,1168.4 826.6,1166.7 823.5,1166.3 C820.4,1165.9 810.7,1162.4 808.0,1160.9 C805.3,1159.4 802.5,1160.5 803.3,1154.7 C804.1,1148.9 810.5,1128.6 814.2,1117.4 C817.9,1106.2 826.0,1085.3 831.2,1070.8 C836.4,1056.3 847.0,1024.2 853.0,1008.7 C859.0,993.2 871.0,968.0 876.3,954.3 C881.6,940.6 889.8,915.9 892.5,906.0 C895.2,896.1 896.4,887.0 896.5,879.8 C896.6,872.6 894.4,859.8 893.4,851.9 C892.4,844.0 890.4,827.2 888.7,820.8 C887.0,814.4 884.5,805.8 880.9,803.7 C877.3,801.6 866.7,806.6 862.0,805.0 C857.3,803.4 849.2,796.0 846.0,792.0 C842.8,788.0 840.0,778.1 838.0,775.0 C836.0,771.9 833.1,769.2 831.0,768.5 C828.9,767.8 824.3,769.3 822.0,769.5 C819.7,769.7 815.1,771.3 813.4,770.3 C811.7,769.3 809.3,765.3 809.5,761.8Z M834.3,753.3 C834.0,751.2 838.1,741.8 840.0,738.0 C841.9,734.2 845.5,728.0 848.3,724.5 C851.1,721.0 857.3,715.0 861.0,712.0 C864.7,709.0 874.0,702.3 876.3,702.0 C878.6,701.7 877.6,707.8 878.0,710.0 C878.4,712.2 881.0,716.0 879.4,718.3 C877.8,720.6 869.3,724.5 866.0,727.0 C862.7,729.5 857.0,734.5 854.5,737.0 C852.0,739.5 848.7,743.7 847.0,746.0 C845.3,748.3 843.7,753.0 842.0,754.0 C840.3,755.0 834.6,755.4 834.3,753.3Z M908.9,691.1 C904.2,691.9 899.0,696.9 898.0,701.2 C897.0,705.5 900.5,712.3 902.7,716.8 C904.9,721.3 908.1,724.6 911.0,728.0 C913.9,731.4 916.3,736.0 919.8,737.0 C923.3,738.0 929.9,738.0 932.2,733.9 C934.5,729.8 934.7,718.3 933.7,712.1 C932.7,705.9 930.1,700.1 926.0,696.6 C921.9,693.1 913.6,690.3 908.9,691.1Z M922.9,808.4 C920.6,808.7 913.2,810.9 912.0,814.6 C910.8,818.3 913.4,830.4 914.0,836.0 C914.6,841.6 915.8,854.0 916.6,856.5 C917.4,859.0 918.7,858.1 919.8,855.0 C920.9,851.9 923.8,838.7 925.0,833.0 C926.2,827.3 929.3,815.3 929.0,812.0 C928.7,808.7 925.2,808.1 922.9,808.4Z M873.2,1056.8 C870.4,1059.4 866.8,1070.0 865.0,1074.0 C863.2,1078.0 856.8,1088.5 857.6,1091.0 C858.4,1093.5 868.6,1094.2 872.0,1095.0 C875.4,1095.8 883.4,1099.3 887.1,1098.0 C890.8,1096.7 900.2,1087.3 904.0,1084.0 C907.8,1080.7 916.3,1073.9 919.8,1069.3 C923.3,1064.7 933.7,1047.8 933.7,1044.4 C933.7,1041.0 923.2,1040.0 919.8,1040.5 C916.4,1041.0 907.8,1047.7 904.2,1049.0 C900.6,1050.3 892.3,1050.5 888.7,1051.4 C885.1,1052.3 876.0,1054.2 873.2,1056.8Z M848.3,1108.9 C846.5,1110.2 843.4,1118.4 842.0,1121.0 C840.6,1123.6 836.5,1130.0 836.7,1131.4 C836.9,1132.8 841.9,1133.7 843.7,1133.0 C845.5,1132.3 850.0,1127.3 852.0,1125.5 C854.0,1123.7 860.0,1119.2 860.7,1117.4 C861.4,1115.6 859.0,1111.0 857.6,1110.0 C856.2,1109.0 850.1,1107.6 848.3,1108.9Z" fill="url(#gcage)" stroke="none" stroke-width="0" fill-rule="evenodd"/>
<polygon points="809.5,761.8 815.0,744.0 825.0,727.6 838.0,710.0 854.5,695.0 871.0,683.0 888.7,674.8 907.3,670.2 912.0,676.0 905.0,684.0 890.0,691.0 876.3,702.0 861.0,712.0 848.3,724.5 840.0,738.0 834.3,753.3 831.0,768.5 822.0,769.5 813.4,770.3" fill="url(#grim)" stroke="none" stroke-width="0" />
<path d="M812,766 Q816,745 830,725 Q850,697 890,679" fill="none" stroke="#a8a8a8" stroke-width="2.5" />
<polygon points="880.9,803.7 888.7,820.8 893.4,851.9 896.5,879.8 892.5,906.0 876.3,954.3 853.0,1008.7 831.2,1070.8 814.2,1117.4 803.3,1154.7 808.0,1160.9 826.6,1151.6 848.3,1086.3 867.0,1039.8 888.7,993.2 908.9,946.6 922.0,905.0 917.5,858.0 913.0,836.0 911.0,814.0 905.0,806.0" fill="#8a8a8a" stroke="none" stroke-width="0" />
<polygon points="938.4,851.9 932.2,882.9 925.0,900.0 916.6,931.0 904.2,974.5 906.0,960.0 915.0,925.0 928.0,880.0 934.5,850.0 936.5,822.0 940.0,820.8" fill="#4a4a4a" stroke="none" stroke-width="0" />
<ellipse cx="894.5" cy="1026.5" rx="9.5" ry="14.0" transform="rotate(18.0 894.5 1026.5)" fill="#8e8e8e" stroke="none" stroke-width="0" />
<ellipse cx="893.0" cy="1025.5" rx="6.5" ry="11.0" transform="rotate(18.0 893.0 1025.5)" fill="#fff" stroke="none" stroke-width="0" />
<ellipse cx="878.6" cy="762.0" rx="40.0" ry="43.0" transform="rotate(10.0 878.6 762.0)" fill="url(#gboss)" stroke="none" stroke-width="0" />
<ellipse cx="874.0" cy="764.0" rx="18.0" ry="27.5" transform="rotate(18.0 874.0 764.0)" fill="#868686" stroke="none" stroke-width="0" />
<ellipse cx="878.0" cy="765.5" rx="14.0" ry="22.0" transform="rotate(18.0 878.0 765.5)" fill="#5c5c5c" stroke="none" stroke-width="0" />
<polygon points="876.3,779.4 944.3,814.1 955.7,783.3 887.7,748.6" fill="url(#gshaft)" stroke="none" stroke-width="0" />
<ellipse cx="950.0" cy="798.7" rx="8.2" ry="16.5" transform="rotate(18.0 950.0 798.7)" fill="#808080" stroke="none" stroke-width="0" />
<path d="M0,-15.5 A7.5,15.5 0 0,1 0,15.5" transform="translate(938.5 792.8) rotate(18.0)" fill="none" stroke="#a6a6a6" stroke-width="2.6"/>
<polygon points="938.5,810.6 951.5,817.3 962.5,787.3 949.5,780.6" fill="url(#gshaft2)" stroke="none" stroke-width="0" />
<ellipse cx="957.0" cy="802.3" rx="8.0" ry="16.0" transform="rotate(18.0 957.0 802.3)" fill="#7c7c7c" stroke="none" stroke-width="0" />
<ellipse cx="957.0" cy="802.3" rx="5.5" ry="11.0" transform="rotate(18.0 957.0 802.3)" fill="#6a6a6a" stroke="none" stroke-width="0" />
<ellipse cx="957.5" cy="802.5" rx="2.5" ry="4.0" transform="rotate(18.0 957.5 802.5)" fill="#b0b0b0" stroke="none" stroke-width="0" />
<ellipse cx="907.0" cy="731.0" rx="5.0" ry="5.0" transform="rotate(0.0 907.0 731.0)" fill="#8a8a8a" stroke="none" stroke-width="0" />
<ellipse cx="911.0" cy="753.0" rx="4.0" ry="4.0" transform="rotate(0.0 911.0 753.0)" fill="#8a8a8a" stroke="none" stroke-width="0" />
<path d="M834.3,753.3 C834.0,751.2 838.1,741.8 840.0,738.0 C841.9,734.2 845.5,728.0 848.3,724.5 C851.1,721.0 857.3,715.0 861.0,712.0 C864.7,709.0 874.0,702.3 876.3,702.0 C878.6,701.7 877.6,707.8 878.0,710.0 C878.4,712.2 881.0,716.0 879.4,718.3 C877.8,720.6 869.3,724.5 866.0,727.0 C862.7,729.5 857.0,734.5 854.5,737.0 C852.0,739.5 848.7,743.7 847.0,746.0 C845.3,748.3 843.7,753.0 842.0,754.0 C840.3,755.0 834.6,755.4 834.3,753.3Z" fill="#fff" stroke="none" stroke-width="0" />
<line x1="951.6" y1="819.0" x2="953.5" y2="851.0" stroke="#777" stroke-width="1.6" />
<polygon points="946.8,851.0 956.2,850.0 962.0,896.0 966.0,903.0 969.5,916.0 961.0,921.0 950.0,921.0 945.0,917.0 946.5,904.0 949.5,897.0" fill="url(#gs9)" stroke="#808080" stroke-width="1" stroke-linejoin="round"/>
<ellipse cx="957.0" cy="917.5" rx="12.3" ry="4.2" transform="rotate(-5.0 957.0 917.5)" fill="#7c7c7c" stroke="none" stroke-width="0" />
<line x1="949.5" y1="897.0" x2="962.0" y2="895.5" stroke="#b0b0b0" stroke-width="1.5" />
<ellipse cx="996.0" cy="1083.0" rx="3.4" ry="7.5" transform="rotate(18.0 996.0 1083.0)" fill="url(#gbbr)" stroke="none" stroke-width="0" />
<polygon points="993.5,1090.1 1026.5,1106.1 1031.5,1091.9 998.5,1075.9" fill="url(#gbbr)" stroke="none" stroke-width="0" />
<ellipse cx="1029.0" cy="1099.0" rx="3.4" ry="7.5" transform="rotate(18.0 1029.0 1099.0)" fill="#7a7a7a" stroke="none" stroke-width="0" />
<ellipse cx="1032.0" cy="1100.5" rx="9.0" ry="13.5" transform="rotate(18.0 1032.0 1100.5)" fill="#6a6a6a" stroke="none" stroke-width="0" />
<ellipse cx="1035.5" cy="1102.2" rx="9.0" ry="13.8" transform="rotate(18.0 1035.5 1102.2)" fill="url(#gbbrh)" stroke="none" stroke-width="0" />
<ellipse cx="1036.0" cy="1102.5" rx="4.0" ry="6.5" transform="rotate(18.0 1036.0 1102.5)" fill="#666" stroke="none" stroke-width="0" />
<polygon points="1151.7,978.0 1160.4,965.6 1174.7,971.8 1167.3,986.7" fill="#7c7c7c" stroke="#7c7c7c" stroke-width="1.5" stroke-linejoin="round"/>
<path d="M1216.4,945.8 L1212.3,950.9 L1207.9,955.6 L1203.1,959.8 L1198.1,963.4 L1192.9,966.3 L1187.7,968.6 L1182.5,970.2 L1177.4,971.0 L1172.5,971.0 L1167.9,970.3 L1163.7,968.8 L1159.9,966.6 L1156.6,963.6 L1153.9,960.1 L1151.8,955.9 L1150.3,951.3 L1149.5,946.2 L1149.4,940.8 L1149.9,935.1 L1151.1,929.3 L1153.0,923.4 L1155.5,917.5 L1158.6,911.9 L1162.2,906.4 L1166.3,901.3 L1170.7,896.6 L1175.5,892.4 L1180.5,888.8 L1185.7,885.9 L1190.9,883.6 L1196.1,882.0 L1201.2,881.2 L1206.1,881.2 L1210.7,881.9 L1214.9,883.4 L1218.7,885.6 L1222.0,888.6 L1224.7,892.1 L1226.8,896.3 L1228.3,900.9 L1229.1,906.0 L1229.2,911.4 L1228.7,917.1 L1227.5,922.9 L1225.6,928.8 L1223.1,934.7 L1220.0,940.3Z M1209.2,936.3 L1206.2,940.9 L1203.0,945.2 L1199.5,949.2 L1195.9,952.8 L1192.3,955.9 L1188.5,958.5 L1184.9,960.5 L1181.3,961.9 L1177.9,962.7 L1174.7,962.8 L1171.8,962.3 L1169.2,961.2 L1166.9,959.4 L1165.1,957.1 L1163.8,954.2 L1162.9,950.8 L1162.4,947.0 L1162.5,942.8 L1163.0,938.3 L1164.0,933.6 L1165.5,928.7 L1167.4,923.8 L1169.7,918.9 L1172.4,914.1 L1175.4,909.5 L1178.6,905.2 L1182.1,901.2 L1185.7,897.6 L1189.3,894.5 L1193.1,891.9 L1196.7,889.9 L1200.3,888.5 L1203.7,887.7 L1206.9,887.6 L1209.8,888.1 L1212.4,889.2 L1214.7,891.0 L1216.5,893.3 L1217.8,896.2 L1218.7,899.6 L1219.2,903.4 L1219.1,907.6 L1218.6,912.1 L1217.6,916.8 L1216.1,921.7 L1214.2,926.6 L1211.9,931.5Z" fill="url(#gr8)" stroke="none" stroke-width="0" fill-rule="evenodd"/>
<path d="M1210,893 Q1219,905 1216.5,925 Q1213.5,942 1203,955" fill="none" stroke="#505050" stroke-width="4" />
<path d="M1163,950 Q1157,928 1166,906 Q1175,890 1190,883.5" fill="none" stroke="#a4a4a4" stroke-width="2" />
<path d="M1296.5,1026.5 L1288,1045" fill="none" stroke="#7a7a7a" stroke-width="7" stroke-linecap="round"/>
<path d="M1256,953 Q1248,950 1246,946 Q1243,941 1246,938" fill="none" stroke="#7a7a7a" stroke-width="3.6" stroke-linecap="round"/>
<ellipse cx="1269.6" cy="969.6" rx="26.0" ry="40.0" transform="rotate(25.0 1269.6 969.6)" fill="url(#gsp)" stroke="none" stroke-width="0" />
<polygon points="1251.9,1005.5 1301.6,1036.5 1337.0,964.7 1287.3,933.7" fill="url(#gsp)" stroke="none" stroke-width="0" />
<ellipse cx="1319.3" cy="1000.6" rx="26.0" ry="40.0" transform="rotate(25.0 1319.3 1000.6)" fill="url(#gsp)" stroke="none" stroke-width="0" />
<g fill="none" stroke="#959595" stroke-width="1.1" opacity="0.85">
<path d="M0,-40 A26,40 0 0,0 0,40" transform="translate(1269.6 969.6) rotate(25)"/>
<path d="M0,-40 A26,40 0 0,0 0,40" transform="translate(1274.1 972.4) rotate(25)"/>
<path d="M0,-40 A26,40 0 0,0 0,40" transform="translate(1278.6 975.2) rotate(25)"/>
<path d="M0,-40 A26,40 0 0,0 0,40" transform="translate(1283.2 978.1) rotate(25)"/>
<path d="M0,-40 A26,40 0 0,0 0,40" transform="translate(1287.7 980.9) rotate(25)"/>
<path d="M0,-40 A26,40 0 0,0 0,40" transform="translate(1292.2 983.7) rotate(25)"/>
<path d="M0,-40 A26,40 0 0,0 0,40" transform="translate(1296.7 986.5) rotate(25)"/>
<path d="M0,-40 A26,40 0 0,0 0,40" transform="translate(1301.2 989.3) rotate(25)"/>
<path d="M0,-40 A26,40 0 0,0 0,40" transform="translate(1305.7 992.1) rotate(25)"/>
<path d="M0,-40 A26,40 0 0,0 0,40" transform="translate(1310.3 995.0) rotate(25)"/>
<path d="M0,-40 A26,40 0 0,0 0,40" transform="translate(1314.8 997.8) rotate(25)"/>
</g>
<ellipse cx="1320.8" cy="1000.1" rx="22.0" ry="35.5" transform="rotate(25.0 1320.8 1000.1)" fill="#565656" stroke="#8a8a8a" stroke-width="1.8" />
<g fill="none" stroke="#8e8e8e" stroke-width="1.3">
<path d="M0,-34 A21,34 0 0,1 0,34" transform="translate(1320.8 1000.1) rotate(25)"/>
<path d="M0,-32 A20,32 0 0,1 0,32" transform="translate(1316.8 997.7) rotate(25)"/>
<path d="M0,-30 A19,30 0 0,1 0,30" transform="translate(1312.8 995.3) rotate(25)"/>
<path d="M0,-28 A18,28 0 0,1 0,28" transform="translate(1308.8 992.9) rotate(25)"/>
<path d="M0,-26 A17,26 0 0,1 0,26" transform="translate(1304.8 990.5) rotate(25)"/>
</g>
<ellipse cx="1320.8" cy="1000.1" rx="22.0" ry="35.5" transform="rotate(25.0 1320.8 1000.1)" fill="none" stroke="#8a8a8a" stroke-width="1.8" />
<ellipse cx="1507.0" cy="767.5" rx="22.0" ry="33.5" transform="rotate(25.0 1507.0 767.5)" fill="#666" stroke="none" stroke-width="0" />
<polygon points="1450.0,774.0 1458.0,758.0 1482.0,770.0 1492.0,798.0 1479.0,807.0 1474.0,800.0 1466.0,786.0" fill="#727272" stroke="none" stroke-width="0" />
<polygon points="1483.0,794.0 1499.0,801.0 1493.0,811.0 1478.0,806.0" fill="#6c6c6c" stroke="none" stroke-width="0" />
<path d="M1456,744 Q1457.5,735.5 1468,734.5 L1490,735.5 L1492,776 L1466,777 Q1455,766 1456,744 Z" fill="url(#gblb)" stroke="none" stroke-width="0" />
<ellipse cx="1450.0" cy="772.0" rx="5.5" ry="6.5" transform="rotate(0.0 1450.0 772.0)" fill="#808080" stroke="none" stroke-width="0" />
<ellipse cx="1466.5" cy="783.0" rx="5.0" ry="6.0" transform="rotate(0.0 1466.5 783.0)" fill="#787878" stroke="none" stroke-width="0" />
<polygon points="1402.8,805.3 1406.0,802.5 1444.7,782.0 1452.0,772.0 1460.0,771.0 1467.0,783.0 1477.4,793.2 1474.6,810.0 1477.0,812.0 1474.0,815.5 1467.1,820.2 1463.5,836.0 1460.6,851.0 1453.1,857.5 1441.0,858.4 1428.0,864.0 1415.8,863.1 1402.8,851.0 1400.0,835.1 1400.8,818.0" fill="url(#gbl)" stroke="#6e6e6e" stroke-width="1.5" stroke-linejoin="round"/>
<polygon points="1402.8,805.3 1406.0,802.5 1413.0,805.0 1408.5,824.0 1407.5,840.0 1411.0,852.0 1419.0,861.0 1415.8,863.1 1402.8,851.0 1400.0,835.1 1400.8,818.0" fill="#8a8a8a" stroke="none" stroke-width="0" />
<ellipse cx="1431.2" cy="840.3" rx="13.5" ry="20.0" transform="rotate(28.0 1431.2 840.3)" fill="#8a8a8a" stroke="none" stroke-width="0" />
<ellipse cx="1427.6" cy="838.6" rx="8.5" ry="16.5" transform="rotate(28.0 1427.6 838.6)" fill="#fff" stroke="none" stroke-width="0" />
<path d="M1420.5,853 Q1428,860 1438,855" fill="none" stroke="#5a5a5a" stroke-width="2" />
<ellipse cx="1505.5" cy="770.5" rx="20.5" ry="29.0" transform="rotate(25.0 1505.5 770.5)" fill="url(#gblf)" stroke="none" stroke-width="0" />
<ellipse cx="1509.0" cy="773.6" rx="12.0" ry="18.5" transform="rotate(25.0 1509.0 773.6)" fill="#666" stroke="none" stroke-width="0" />
<ellipse cx="1511.5" cy="772.0" rx="6.5" ry="11.0" transform="rotate(25.0 1511.5 772.0)" fill="#a2a2a2" stroke="none" stroke-width="0" />
<ellipse cx="1505.5" cy="781.0" rx="3.0" ry="2.5" transform="rotate(0.0 1505.5 781.0)" fill="#3e3e3e" stroke="none" stroke-width="0" />
<g transform="rotate(18.0 1524 888.5)">
<path d="M1497,888.5 a27,30.5 0 1,0 54,0 a27,30.5 0 1,0 -54,0 Z M1514,890 a15.5,21 0 1,0 31,0 a15.5,21 0 1,0 -31,0 Z" fill="url(#gseal)" fill-rule="evenodd"/>
<path d="M1503.5,888 a22,27 0 1,0 44,0 a22,27 0 1,0 -44,0 Z" fill="none" stroke="#8e8e8e" stroke-width="1.5"/>
</g>
<path d="M1533,870.5 Q1546,878 1545,893 Q1543,905 1533,910.5 Q1540,900 1540,890 Q1540,878 1533,870.5Z" fill="#8a8a8a" stroke="none" stroke-width="0" />
<ellipse cx="1599.0" cy="930.3" rx="5.5" ry="11.0" transform="rotate(18.0 1599.0 930.3)" fill="url(#gb2a)" stroke="none" stroke-width="0" />
<polygon points="1595.3,940.7 1610.3,947.4 1617.7,926.6 1602.7,919.9" fill="url(#gb2a)" stroke="none" stroke-width="0" />
<ellipse cx="1614.0" cy="937.0" rx="5.5" ry="11.0" transform="rotate(18.0 1614.0 937.0)" fill="url(#gb2a)" stroke="none" stroke-width="0" />
<ellipse cx="1616.0" cy="938.0" rx="11.0" ry="20.0" transform="rotate(18.0 1616.0 938.0)" fill="url(#gb2b)" stroke="none" stroke-width="0" />
<polygon points="1609.2,956.8 1631.2,966.6 1644.8,929.0 1622.8,919.2" fill="url(#gb2b)" stroke="none" stroke-width="0" />
<ellipse cx="1638.0" cy="947.8" rx="11.0" ry="20.0" transform="rotate(18.0 1638.0 947.8)" fill="url(#gb2b)" stroke="none" stroke-width="0" />
<ellipse cx="1639.0" cy="948.3" rx="11.0" ry="21.0" transform="rotate(18.0 1639.0 948.3)" fill="none" stroke="#a0a0a0" stroke-width="2" />
<ellipse cx="1641.0" cy="949.2" rx="14.1" ry="23.5" transform="rotate(18.0 1641.0 949.2)" fill="url(#gb2c)" stroke="none" stroke-width="0" />
<polygon points="1632.9,971.2 1660.4,983.5 1676.6,939.5 1649.1,927.2" fill="url(#gb2c)" stroke="none" stroke-width="0" />
<ellipse cx="1668.5" cy="961.5" rx="14.1" ry="23.5" transform="rotate(18.0 1668.5 961.5)" fill="#7c7c7c" stroke="none" stroke-width="0" />
<ellipse cx="1670.0" cy="962.5" rx="8.0" ry="12.5" transform="rotate(18.0 1670.0 962.5)" fill="#666" stroke="none" stroke-width="0" />
<ellipse cx="1671.0" cy="963.0" rx="4.5" ry="7.0" transform="rotate(18.0 1671.0 963.0)" fill="#808080" stroke="none" stroke-width="0" />
<path d="M1559.7,1148.1 C1561.9,1143.5 1564.8,1132.9 1567.0,1129.3 C1569.2,1125.7 1578.2,1114.5 1581.4,1111.9 C1584.6,1109.3 1595.6,1104.3 1598.8,1103.2 C1602.0,1102.1 1609.2,1100.3 1613.3,1101.0 C1617.4,1101.7 1633.9,1108.2 1639.4,1110.4 C1644.9,1112.7 1663.5,1121.2 1668.4,1123.5 C1673.3,1125.8 1685.8,1131.4 1688.7,1133.6 C1691.6,1135.8 1696.0,1141.9 1697.4,1145.2 C1698.9,1148.5 1703.2,1163.1 1703.2,1167.0 C1703.2,1170.9 1698.3,1180.7 1697.4,1184.3 C1696.5,1187.9 1696.0,1199.1 1694.5,1203.2 C1693.0,1207.3 1686.2,1220.7 1682.9,1224.9 C1679.6,1229.1 1665.4,1242.0 1661.2,1245.2 C1657.0,1248.4 1646.0,1253.8 1640.9,1256.8 C1635.8,1259.8 1615.8,1272.8 1610.4,1275.7 C1605.0,1278.6 1590.1,1283.3 1587.2,1285.8 C1584.3,1288.3 1585.2,1296.5 1581.4,1300.3 C1577.6,1304.1 1556.8,1319.3 1549.6,1323.5 C1542.4,1327.7 1514.1,1341.9 1509.0,1342.3 C1503.9,1342.7 1496.9,1330.5 1498.8,1327.8 C1500.7,1325.0 1523.5,1317.4 1527.8,1314.8 C1532.1,1312.2 1540.1,1304.2 1542.3,1301.7 C1544.5,1299.2 1549.4,1292.0 1549.6,1290.1 C1549.8,1288.2 1547.9,1288.0 1543.8,1282.9 C1539.7,1277.8 1513.5,1245.5 1509.0,1239.4 C1504.5,1233.3 1497.3,1225.5 1498.8,1222.0 C1500.2,1218.5 1518.9,1209.2 1523.5,1204.6 C1528.1,1200.0 1541.6,1181.4 1545.2,1175.7 C1548.8,1170.0 1557.5,1152.7 1559.7,1148.1Z" fill="url(#ghood)" stroke="none" stroke-width="0" />
<polygon points="1559.7,1148.1 1567.0,1129.3 1581.4,1111.9 1598.8,1103.2 1606.0,1101.7 1610.4,1127.8 1598.8,1129.3 1575.0,1143.0 1562.0,1155.0" fill="url(#gdome)" stroke="none" stroke-width="0" />
<path d="M1598.8,1103.2 C1599.8,1101.9 1609.2,1100.3 1613.3,1101.0 C1617.4,1101.7 1633.9,1108.2 1639.4,1110.4 C1644.9,1112.7 1663.5,1121.2 1668.4,1123.5 C1673.3,1125.8 1688.0,1132.8 1688.7,1133.6 C1689.4,1134.3 1677.8,1131.4 1675.0,1131.0 C1672.2,1130.6 1664.8,1129.8 1661.2,1129.3 C1657.6,1128.8 1643.6,1126.2 1639.4,1126.4 C1635.2,1126.6 1622.2,1131.6 1619.1,1131.5 C1616.0,1131.4 1609.6,1126.8 1608.0,1125.0 C1606.4,1123.2 1603.9,1116.2 1603.0,1114.0 C1602.1,1111.8 1597.8,1104.5 1598.8,1103.2Z" fill="url(#gband)" stroke="none" stroke-width="0" />
<path d="M1620.6,1139.4 C1622.5,1137.6 1635.6,1129.9 1640.0,1129.0 C1644.4,1128.1 1660.1,1129.5 1665.0,1130.0 C1669.9,1130.5 1685.5,1132.1 1688.7,1133.6 C1691.9,1135.1 1696.0,1141.9 1697.4,1145.2 C1698.9,1148.5 1704.9,1163.4 1703.2,1167.0 C1701.5,1170.6 1685.1,1178.1 1680.0,1181.0 C1674.9,1183.9 1656.6,1196.1 1652.5,1195.9 C1648.4,1195.7 1643.0,1182.6 1639.4,1178.6 C1635.8,1174.5 1618.0,1158.6 1616.2,1155.4 C1614.4,1152.2 1620.6,1148.6 1621.0,1147.0 C1621.4,1145.4 1618.7,1141.2 1620.6,1139.4Z" fill="url(#gface)" stroke="none" stroke-width="0" />
<polygon points="1652.5,1197.4 1703.2,1168.4 1697.4,1184.3 1694.5,1203.2 1682.9,1224.9 1665.5,1240.9 1664.0,1200.3" fill="url(#grl)" stroke="none" stroke-width="0" />
<path d="M1603.2,1233.6 C1605.9,1230.3 1620.1,1215.6 1625.0,1212.0 C1629.9,1208.4 1648.6,1198.6 1652.5,1197.4 C1656.4,1196.2 1662.5,1197.5 1664.0,1200.3 C1665.5,1203.1 1667.9,1220.7 1667.0,1225.0 C1666.1,1229.3 1657.6,1239.8 1655.0,1243.0 C1652.4,1246.2 1643.8,1256.7 1640.9,1256.8 C1638.0,1256.9 1629.3,1244.5 1626.4,1243.8 C1623.5,1243.1 1614.6,1248.7 1612.0,1250.0 C1609.4,1251.3 1601.7,1257.3 1600.3,1256.8 C1598.9,1256.3 1597.7,1247.3 1598.0,1245.0 C1598.3,1242.7 1600.5,1236.9 1603.2,1233.6Z" fill="url(#gll)" stroke="none" stroke-width="0" />
<path d="M1652.5,1196.5 L1703,1167.5" fill="none" stroke="#3a3a3a" stroke-width="2.5" />
<polygon points="1600.3,1161.2 1616.2,1155.4 1639.4,1178.6 1620.6,1188.7 1607.5,1174.2" fill="url(#gtab)" stroke="none" stroke-width="0" />
<polygon points="1639.4,1178.6 1643.8,1177.1 1653.9,1195.9 1651.0,1197.4 1620.6,1188.7" fill="#5e5e5e" stroke="none" stroke-width="0" />
<polygon points="1598.8,1129.3 1606.0,1130.5 1619.1,1142.3 1614.0,1148.5 1603.0,1138.0" fill="#8c8c8c" stroke="none" stroke-width="0" />
<polygon points="1606.0,1130.5 1612.0,1131.0 1622.0,1141.0 1619.1,1142.3" fill="#5a5a5a" stroke="none" stroke-width="0" />
<path d="M1549.6,1173.5 Q1566,1152 1580,1142 Q1590,1134 1598.8,1130" fill="none" stroke="#1e1e1e" stroke-width="3.2" />
<path d="M1523.5,1205 Q1538,1190 1549.6,1173.5" fill="none" stroke="#2c2c2c" stroke-width="2.6" />
<polygon points="1598.8,1256.8 1626.4,1242.3 1635.1,1256.8 1610.4,1275.7 1587.2,1285.8 1592.0,1270.0" fill="url(#gltab)" stroke="none" stroke-width="0" />
<polygon points="1626.4,1242.3 1630.0,1241.0 1638.0,1255.0 1635.1,1256.8" fill="#5a5a5a" stroke="none" stroke-width="0" />
<path d="M1603.2,1233.6 Q1592,1252 1585.8,1280 Q1582,1292 1578.6,1301.7" fill="none" stroke="#2a2a2a" stroke-width="3.5" />
<polygon points="1498.8,1327.8 1527.8,1314.8 1542.3,1301.7 1549.6,1290.1 1562.0,1296.0 1575.0,1303.0 1549.6,1323.5 1509.0,1342.3" fill="url(#gbot)" stroke="none" stroke-width="0" />
<polygon points="1498.8,1327.8 1509.0,1342.3 1514.0,1340.0 1504.0,1325.5" fill="#5e5e5e" stroke="none" stroke-width="0" />
<polygon points="1441.0,1197.4 1490.0,1189.0 1533.0,1182.0 1546.0,1175.0 1524.0,1204.5 1510.0,1216.0 1498.0,1222.0 1480.0,1214.0 1452.0,1208.5" fill="url(#gbnd)" stroke="none" stroke-width="0" />
<path d="M1450,1209.5 L1498,1201 Q1507,1200 1508,1205 L1503,1212" fill="none" stroke="#2e2e2e" stroke-width="2.2" />
<polygon points="1489.0,1214.5 1499.0,1211.0 1503.0,1216.0 1494.0,1220.0" fill="#fff" stroke="none" stroke-width="0" />
<path d="M1546,1177 Q1530,1200 1496,1220" fill="none" stroke="#1c1c1c" stroke-width="3" />
<polygon points="1496.0,1221.0 1510.0,1238.0 1544.0,1282.0 1549.6,1290.1 1535.0,1300.0 1515.0,1296.0 1496.0,1275.0 1492.0,1250.0" fill="#929292" stroke="none" stroke-width="0" />
<path d="M1502,1240 Q1526,1250 1545,1282" fill="none" stroke="#2e2e2e" stroke-width="3" />
<polygon points="1498.0,1242.0 1508.0,1245.0 1512.0,1262.0 1503.0,1258.0" fill="#262626" stroke="none" stroke-width="0" />
<polygon points="1505.0,1262.0 1520.0,1268.0 1542.0,1286.0 1530.0,1290.0 1510.0,1278.0" fill="#7a7a7a" stroke="none" stroke-width="0" />
<path d="M1512,1268 L1538,1285" fill="none" stroke="#c4c4c4" stroke-width="2" />
<path d="M1508,1274 L1530,1289" fill="none" stroke="#444" stroke-width="2" />
<polygon points="1531.0,1292.5 1540.0,1291.0 1541.5,1297.0 1534.0,1299.5" fill="#fff" stroke="none" stroke-width="0" />
<polygon points="1324.8,1266.1 1346.4,1247.9 1370.4,1233.8 1371.2,1224.7 1395.2,1211.5 1399.4,1207.3 1406.0,1199.8 1420.0,1193.5 1436.0,1198.5 1447.0,1212.0 1460.0,1230.0 1475.0,1262.0 1490.0,1290.0 1497.0,1326.0 1488.7,1326.8 1445.2,1302.2 1430.7,1297.8 1409.0,1297.1 1391.1,1299.5 1366.3,1302.6 1346.4,1304.2 1335.6,1295.9 1331.0,1280.0" fill="#808080" stroke="none" stroke-width="0" />
<polygon points="1320.7,1272.8 1332.3,1275.2 1331.5,1301.7 1318.2,1302.6" fill="#a8a8a8" stroke="none" stroke-width="0" />
<polygon points="1320.7,1271.5 1333.5,1273.5 1333.0,1277.0 1320.5,1275.0" fill="#555" stroke="none" stroke-width="0" />
<path d="M1331.5,1290 Q1333,1306 1345,1313 Q1356,1317.5 1370.4,1310.8 L1392,1302 L1391.1,1297.5 L1366.3,1301.6 L1346.4,1303.2 L1335.6,1294.9 Z" fill="#222" stroke="none" stroke-width="0" />
<polygon points="1445.0,1272.0 1487.0,1268.0 1500.0,1264.0 1530.0,1287.0 1533.0,1301.0 1521.0,1310.0" fill="#545454" stroke="none" stroke-width="0" />
<polygon points="1366.3,1302.6 1391.0,1291.0 1416.0,1283.0 1440.0,1280.0 1516.0,1316.0 1497.0,1326.0 1488.7,1326.8 1445.2,1302.2 1430.7,1297.8 1409.0,1297.1 1391.1,1299.5 1380.0,1302.3" fill="url(#gfw)" stroke="none" stroke-width="0" />
<polygon points="1481.4,1316.7 1496.0,1325.4 1505.0,1321.0 1490.0,1312.5" fill="#2a2a2a" stroke="none" stroke-width="0" />
<polygon points="1324.8,1266.1 1346.4,1247.9 1370.4,1233.8 1382.8,1237.1 1366.3,1248.7 1349.7,1262.8 1335.6,1275.2" fill="#a2a2a2" stroke="none" stroke-width="0" />
<path d="M1329,1268 Q1346,1252 1372,1237" fill="none" stroke="#5a5a5a" stroke-width="1.6" />
<polygon points="1335.6,1275.2 1349.7,1262.8 1366.3,1248.7 1382.8,1237.1 1387.0,1242.9 1374.5,1264.5 1389.4,1279.4 1426.7,1264.5 1445.0,1272.5 1521.0,1310.0 1516.0,1316.0 1440.0,1280.0 1416.0,1283.0 1391.0,1291.0 1366.3,1302.6 1346.4,1304.2 1335.6,1295.9 1332.5,1285.0" fill="url(#garm)" stroke="url(#garm)" stroke-width="1.5" stroke-linejoin="round"/>
<polygon points="1387.0,1242.9 1374.5,1264.5 1389.4,1279.4 1426.7,1264.5 1399.4,1252.0" fill="#707070" stroke="none" stroke-width="0" />
<polygon points="1392.8,1256.2 1393.6,1275.2 1420.1,1265.3" fill="#929292" stroke="none" stroke-width="0" />
<path d="M1399.4,1252 L1426.7,1264.5" fill="none" stroke="#3a3a3a" stroke-width="2" />
<polygon points="1371.2,1224.7 1395.2,1211.5 1399.4,1218.9 1379.5,1233.0" fill="url(#gupl)" stroke="#2e2e2e" stroke-width="1.8" stroke-linejoin="round"/>
<ellipse cx="1358.0" cy="1282.0" rx="8.0" ry="6.5" transform="rotate(25.0 1358.0 1282.0)" fill="#1e1e1e" stroke="none" stroke-width="0" />
<ellipse cx="1359.5" cy="1282.5" rx="3.6" ry="3.0" transform="rotate(25.0 1359.5 1282.5)" fill="#b0b0b0" stroke="none" stroke-width="0" />
<path d="M1400.0,1222.0 C1398.9,1218.7 1397.7,1212.6 1398.5,1210.0 C1399.3,1207.4 1404.0,1201.7 1406.5,1199.8 C1409.0,1197.9 1416.6,1193.7 1420.0,1193.5 C1423.4,1193.3 1433.1,1196.3 1436.0,1198.5 C1438.9,1200.7 1443.8,1208.3 1445.0,1212.0 C1446.2,1215.7 1446.6,1226.2 1446.0,1230.0 C1445.4,1233.8 1442.1,1242.6 1440.0,1245.0 C1437.9,1247.4 1430.6,1250.3 1428.0,1250.5 C1425.4,1250.7 1420.3,1248.5 1418.0,1247.0 C1415.7,1245.5 1410.1,1240.9 1408.0,1238.0 C1405.9,1235.1 1401.1,1225.3 1400.0,1222.0Z" fill="url(#gc1)" stroke="none" stroke-width="0" />
<ellipse cx="1430.0" cy="1224.0" rx="14.0" ry="21.5" transform="rotate(25.0 1430.0 1224.0)" fill="#7c7c7c" stroke="#a0a0a0" stroke-width="1.6" />
<ellipse cx="1431.0" cy="1225.0" rx="8.5" ry="13.5" transform="rotate(25.0 1431.0 1225.0)" fill="#686868" stroke="#8e8e8e" stroke-width="1.2" />
<path d="M1442.7,1260.6 C1441.1,1256.9 1438.3,1244.5 1438.0,1240.0 C1437.7,1235.5 1438.6,1225.4 1440.0,1222.0 C1441.4,1218.6 1447.0,1212.5 1450.0,1211.0 C1453.0,1209.5 1462.0,1208.5 1466.0,1209.0 C1470.0,1209.5 1480.4,1212.3 1484.0,1215.0 C1487.6,1217.7 1495.2,1227.7 1497.0,1232.0 C1498.8,1236.3 1500.1,1247.6 1499.6,1252.0 C1499.1,1256.4 1495.3,1266.7 1493.0,1270.0 C1490.7,1273.3 1483.3,1279.0 1480.0,1280.0 C1476.7,1281.0 1468.3,1279.9 1465.0,1279.0 C1461.7,1278.1 1454.6,1274.1 1452.0,1272.0 C1449.4,1269.9 1444.3,1264.3 1442.7,1260.6Z" fill="#7a7a7a" stroke="none" stroke-width="0" />
<ellipse cx="1475.0" cy="1250.0" rx="23.5" ry="30.0" transform="rotate(25.0 1475.0 1250.0)" fill="#808080" stroke="#a0a0a0" stroke-width="1.8" />
<ellipse cx="1473.0" cy="1252.5" rx="16.0" ry="22.0" transform="rotate(25.0 1473.0 1252.5)" fill="#a6a6a6" stroke="none" stroke-width="0" />
<ellipse cx="1470.5" cy="1254.0" rx="11.0" ry="18.0" transform="rotate(25.0 1470.5 1254.0)" fill="#8a8a8a" stroke="none" stroke-width="0" />
<path d="M1822.0,1084.0 C1824.8,1081.4 1830.0,1080.6 1834.0,1080.5 C1838.0,1080.4 1842.9,1081.2 1846.0,1083.5 C1849.1,1085.8 1851.7,1090.1 1852.5,1094.0 C1853.3,1097.9 1852.6,1103.5 1851.0,1107.0 C1849.4,1110.5 1846.0,1112.6 1843.0,1115.0 C1840.0,1117.4 1836.3,1120.5 1833.0,1121.5 C1829.7,1122.5 1825.8,1122.6 1823.0,1121.0 C1820.2,1119.4 1817.5,1116.2 1816.5,1112.0 C1815.5,1107.8 1816.1,1100.7 1817.0,1096.0 C1817.9,1091.3 1819.2,1086.6 1822.0,1084.0Z" fill="#1c1c1c" stroke="none" stroke-width="0" />
<ellipse cx="1838.0" cy="1095.0" rx="12.5" ry="12.0" transform="rotate(-30.0 1838.0 1095.0)" fill="url(#g3a)" stroke="none" stroke-width="0" />
<ellipse cx="1832.5" cy="1100.0" rx="3.2" ry="3.2" transform="rotate(0.0 1832.5 1100.0)" fill="#4a4a4a" stroke="none" stroke-width="0" />
<line x1="1846.0" y1="1083.5" x2="1836.5" y2="1098.0" stroke="#8e8e8e" stroke-width="2" />
<ellipse cx="1798.0" cy="1158.0" rx="16.5" ry="18.5" transform="rotate(-30.0 1798.0 1158.0)" fill="#c6c6c6" stroke="#a8a8a8" stroke-width="1.6" />
<path d="M1783.5,1159.0 Q1797.0,1171.0 1812.5,1160.0" fill="none" stroke="#a2a2a2" stroke-width="1.4" />
<path d="M1784.8,1163.5 Q1798.0,1174.2 1811.3,1164.2" fill="none" stroke="#a2a2a2" stroke-width="1.4" />
<path d="M1786.1,1168.0 Q1799.0,1177.4 1810.1,1168.4" fill="none" stroke="#a2a2a2" stroke-width="1.4" />
<path d="M1785,1151 Q1797,1141 1811,1149" fill="none" stroke="#a6a6a6" stroke-width="1.4" />
<ellipse cx="1799.0" cy="1157.0" rx="8.5" ry="4.6" transform="rotate(-12.0 1799.0 1157.0)" fill="#fff" stroke="#9c9c9c" stroke-width="1.2" />
<line x1="1806.5" y1="1146.0" x2="1797.5" y2="1160.0" stroke="#8e8e8e" stroke-width="2" />
<ellipse cx="1762.5" cy="1217.5" rx="25.5" ry="24.0" transform="rotate(-30.0 1762.5 1217.5)" fill="#1e1e1e" stroke="none" stroke-width="0" />
<ellipse cx="1764.0" cy="1215.5" rx="24.0" ry="22.0" transform="rotate(-30.0 1764.0 1215.5)" fill="none" stroke="#9a9a9a" stroke-width="1.2" />
<ellipse cx="1760.5" cy="1217.0" rx="17.5" ry="18.5" transform="rotate(-30.0 1760.5 1217.0)" fill="url(#g3c)" stroke="none" stroke-width="0" />
<polygon points="1752.0,1201.5 1767.0,1199.5 1766.0,1210.0 1753.0,1213.5" fill="#2c2c2c" stroke="none" stroke-width="0" />
<path d="M1770,1203 Q1782,1209 1779.5,1222 Q1777,1231 1768,1236 Q1773,1222 1770,1203Z" fill="#2a2a2a" stroke="none" stroke-width="0" />
<path d="M1764,1214 Q1771,1218 1772,1228" fill="none" stroke="#444" stroke-width="1.5" />
<path d="M1759,1216 Q1766,1221 1766,1232" fill="none" stroke="#555" stroke-width="1.3" />
<line x1="1775.0" y1="1196.0" x2="1756.5" y2="1226.0" stroke="#8e8e8e" stroke-width="2" />
<ellipse cx="1439.8" cy="1320.4" rx="14.5" ry="5.0" transform="rotate(20.0 1439.8 1320.4)" fill="#7a7a7a" stroke="none" stroke-width="0" />
<ellipse cx="1440.3" cy="1318.9" rx="14.5" ry="5.0" transform="rotate(20.0 1440.3 1318.9)" fill="#9a9a9a" stroke="none" stroke-width="0" />
<ellipse cx="1441.0" cy="1318.7" rx="6.0" ry="2.0" transform="rotate(20.0 1441.0 1318.7)" fill="#6a6a6a" stroke="none" stroke-width="0" />
<ellipse cx="1428.5" cy="1336.0" rx="2.3" ry="5.8" transform="rotate(115.0 1428.5 1336.0)" fill="url(#gp4)" stroke="none" stroke-width="0" />
<polygon points="1423.2,1333.6 1394.2,1397.6 1404.8,1402.4 1433.8,1338.4" fill="url(#gp4)" stroke="none" stroke-width="0" />
<ellipse cx="1399.5" cy="1400.0" rx="2.3" ry="5.8" transform="rotate(115.0 1399.5 1400.0)" fill="url(#gp4)" stroke="none" stroke-width="0" />
<polygon points="1386.0,1396.5 1409.0,1400.5 1408.5,1409.0 1403.0,1412.5 1389.0,1410.0 1384.0,1403.5" fill="#8c8c8c" stroke="#8c8c8c" stroke-width="1.5" stroke-linejoin="round"/>
<polygon points="1384.0,1403.5 1389.0,1410.0 1403.0,1412.5 1408.5,1409.0 1408.0,1405.0 1402.0,1408.0 1390.0,1406.0" fill="#6e6e6e" stroke="none" stroke-width="0" />
<path d="M1308.3,1461.2 Q1313,1450 1325,1446 Q1342,1442.5 1358,1448.5 Q1368,1453 1371.4,1462.2 L1362.5,1475.8 L1309,1465.5Z" fill="url(#gp5)" stroke="none" stroke-width="0" />
<path d="M1308.3,1461.2 L1361.5,1471 L1371.4,1462.2 L1362.5,1475.8 L1309,1465.5Z" fill="#8e8e8e" stroke="none" stroke-width="0" />
<ellipse cx="1343.0" cy="1457.0" rx="12.0" ry="5.5" transform="rotate(5.0 1343.0 1457.0)" fill="#d0d0d0" stroke="none" stroke-width="0" />
<ellipse cx="1343.0" cy="1457.8" rx="9.0" ry="3.8" transform="rotate(5.0 1343.0 1457.8)" fill="#fff" stroke="none" stroke-width="0" />
<path d="M1331,1492 Q1343,1488 1355.5,1492 L1355,1515 Q1356,1521 1360,1524.5 L1360.4,1531 Q1355,1541 1341,1541.5 Q1327,1541 1321.7,1531 L1322.5,1524.5 Q1330,1521 1331,1515Z" fill="url(#gp5b)" stroke="none" stroke-width="0" />
<ellipse cx="1343.2" cy="1492.3" rx="12.2" ry="3.0" transform="rotate(0.0 1343.2 1492.3)" fill="#8a8a8a" stroke="none" stroke-width="0" />
<ellipse cx="1343.2" cy="1492.3" rx="7.0" ry="1.6" transform="rotate(0.0 1343.2 1492.3)" fill="#5e5e5e" stroke="none" stroke-width="0" />
<path d="M1322.5,1526 Q1341,1534 1360,1526" fill="none" stroke="#6a6a6a" stroke-width="1.2" />
<ellipse cx="1181.8" cy="1341.7" rx="2.8" ry="5.6" transform="rotate(-28.0 1181.8 1341.7)" fill="url(#gs61)" stroke="none" stroke-width="0" />
<polygon points="1184.4,1346.7 1226.6,1324.4 1221.4,1314.6 1179.2,1336.8" fill="url(#gs61)" stroke="none" stroke-width="0" />
<ellipse cx="1224.0" cy="1319.5" rx="2.8" ry="5.6" transform="rotate(-28.0 1224.0 1319.5)" fill="url(#gs61)" stroke="none" stroke-width="0" />
<ellipse cx="1176.5" cy="1344.5" rx="6.8" ry="9.0" transform="rotate(-28.0 1176.5 1344.5)" fill="url(#gs6h1)" stroke="none" stroke-width="0" />
<polygon points="1180.7,1352.5 1190.4,1347.3 1182.0,1331.4 1172.3,1336.5" fill="url(#gs6h1)" stroke="none" stroke-width="0" />
<ellipse cx="1186.2" cy="1339.4" rx="6.8" ry="9.0" transform="rotate(-28.0 1186.2 1339.4)" fill="url(#gs6h1)" stroke="none" stroke-width="0" />
<ellipse cx="1176.0" cy="1344.8" rx="6.8" ry="9.0" transform="rotate(-28.0 1176.0 1344.8)" fill="#8c8c8c" stroke="none" stroke-width="0" />
<ellipse cx="1176.0" cy="1344.8" rx="3.5" ry="4.8" transform="rotate(-28.0 1176.0 1344.8)" fill="#666" stroke="none" stroke-width="0" />
<ellipse cx="1135.3" cy="1424.2" rx="2.8" ry="5.6" transform="rotate(-28.0 1135.3 1424.2)" fill="url(#gs62)" stroke="none" stroke-width="0" />
<polygon points="1137.9,1429.1 1197.1,1397.4 1191.9,1387.6 1132.7,1419.2" fill="url(#gs62)" stroke="none" stroke-width="0" />
<ellipse cx="1194.5" cy="1392.5" rx="2.8" ry="5.6" transform="rotate(-28.0 1194.5 1392.5)" fill="url(#gs62)" stroke="none" stroke-width="0" />
<ellipse cx="1130.0" cy="1427.0" rx="6.8" ry="9.0" transform="rotate(-28.0 1130.0 1427.0)" fill="url(#gs6h2)" stroke="none" stroke-width="0" />
<polygon points="1134.2,1434.9 1143.9,1429.8 1135.5,1413.9 1125.8,1419.1" fill="url(#gs6h2)" stroke="none" stroke-width="0" />
<ellipse cx="1139.7" cy="1421.8" rx="6.8" ry="9.0" transform="rotate(-28.0 1139.7 1421.8)" fill="url(#gs6h2)" stroke="none" stroke-width="0" />
<ellipse cx="1129.5" cy="1427.3" rx="6.8" ry="9.0" transform="rotate(-28.0 1129.5 1427.3)" fill="#8c8c8c" stroke="none" stroke-width="0" />
<ellipse cx="1129.5" cy="1427.3" rx="3.5" ry="4.8" transform="rotate(-28.0 1129.5 1427.3)" fill="#666" stroke="none" stroke-width="0" />
<path d="M1256,1300 L1284,1343" fill="none" stroke="#6e6e6e" stroke-width="9" stroke-linecap="round"/>
<path d="M1256,1300 L1284,1343" fill="none" stroke="#8a8a8a" stroke-width="4.5" stroke-linecap="round"/>
<ellipse cx="1253.8" cy="1298.6" rx="8.0" ry="11.5" transform="rotate(-25.0 1253.8 1298.6)" fill="#707070" stroke="none" stroke-width="0" />
<ellipse cx="1258.3" cy="1301.1" rx="8.0" ry="11.5" transform="rotate(-25.0 1258.3 1301.1)" fill="#8c8c8c" stroke="none" stroke-width="0" />
<ellipse cx="1258.3" cy="1301.1" rx="4.2" ry="6.5" transform="rotate(-25.0 1258.3 1301.1)" fill="#666" stroke="none" stroke-width="0" />
<ellipse cx="1281.9" cy="1341.6" rx="8.0" ry="11.5" transform="rotate(-25.0 1281.9 1341.6)" fill="#707070" stroke="none" stroke-width="0" />
<ellipse cx="1286.4" cy="1344.1" rx="8.0" ry="11.5" transform="rotate(-25.0 1286.4 1344.1)" fill="#8c8c8c" stroke="none" stroke-width="0" />
<ellipse cx="1286.4" cy="1344.1" rx="4.2" ry="6.5" transform="rotate(-25.0 1286.4 1344.1)" fill="#666" stroke="none" stroke-width="0" />
<rect x="171.5" y="1344" width="742.5" height="30" fill="url(#gcab)"/>
<text x="347.5" y="1366" font-size="20.5" font-weight="bold" font-style="italic" fill="#e6e6e6" fill-opacity="0.92" textLength="120" lengthAdjust="spacingAndGlyphs">SHIMANO</text>
<text x="483" y="1366.5" font-size="22" font-weight="bold" font-style="italic" fill="#e6e6e6" fill-opacity="0.9" textLength="67" lengthAdjust="spacingAndGlyphs">SIS</text>
<text x="575" y="1366" font-size="20.5" font-weight="bold" font-style="italic" fill="#dcdcdc" fill-opacity="0.9" textLength="119.5" lengthAdjust="spacingAndGlyphs">OT-RS900</text>
<line x1="257.0" y1="428.0" x2="395.8" y2="502.5" stroke="#8e8e8e" stroke-width="2.2" />
<line x1="408.0" y1="509.1" x2="437.0" y2="524.7" stroke="#8e8e8e" stroke-width="2.2" />
<line x1="459.5" y1="536.7" x2="506.0" y2="561.7" stroke="#8e8e8e" stroke-width="2.2" />
<line x1="561.0" y1="591.2" x2="644.0" y2="635.8" stroke="#8e8e8e" stroke-width="2.2" />
<line x1="669.5" y1="649.5" x2="700.0" y2="665.9" stroke="#8e8e8e" stroke-width="2.2" />
<line x1="721.5" y1="677.4" x2="771.0" y2="704.0" stroke="#8e8e8e" stroke-width="2.2" />
<line x1="783.0" y1="710.5" x2="819.0" y2="729.8" stroke="#8e8e8e" stroke-width="2.2" />
<line x1="317.5" y1="722.5" x2="395.8" y2="764.2" stroke="#8e8e8e" stroke-width="2.2" />
<line x1="408.0" y1="770.8" x2="435.0" y2="785.2" stroke="#8e8e8e" stroke-width="2.2" />
<line x1="457.0" y1="796.9" x2="510.0" y2="825.2" stroke="#8e8e8e" stroke-width="2.2" />
<line x1="561.0" y1="852.4" x2="643.0" y2="896.2" stroke="#8e8e8e" stroke-width="2.2" />
<line x1="668.5" y1="909.8" x2="699.0" y2="926.1" stroke="#8e8e8e" stroke-width="2.2" />
<line x1="720.5" y1="937.5" x2="771.5" y2="964.8" stroke="#8e8e8e" stroke-width="2.2" />
<line x1="783.0" y1="970.9" x2="851.4" y2="1007.4" stroke="#8e8e8e" stroke-width="2.2" />
<line x1="889.0" y1="1027.5" x2="990.0" y2="1081.4" stroke="#8e8e8e" stroke-width="2.2" />
<line x1="963.2" y1="806.8" x2="1157.0" y2="907.4" stroke="#5a5a5a" stroke-width="2" />
<line x1="1177.0" y1="917.8" x2="1214.0" y2="937.0" stroke="#5a5a5a" stroke-width="2" />
<line x1="1224.5" y1="942.4" x2="1252.0" y2="956.7" stroke="#5a5a5a" stroke-width="2" />
<line x1="1300.0" y1="981.6" x2="1356.0" y2="1010.7" stroke="#b0b0b0" stroke-width="2.2" />
<line x1="1340.0" y1="790.7" x2="1396.0" y2="820.3" stroke="#666" stroke-width="1.8" />
<line x1="1419.0" y1="832.4" x2="1461.0" y2="854.6" stroke="#aaa" stroke-width="2.2" />
<line x1="1461.0" y1="854.6" x2="1498.0" y2="874.2" stroke="#666" stroke-width="1.8" />
<line x1="1516.0" y1="883.7" x2="1540.0" y2="896.3" stroke="#aaa" stroke-width="2.2" />
<line x1="1549.0" y1="901.1" x2="1596.0" y2="925.9" stroke="#666" stroke-width="1.8" />
<line x1="1398.0" y1="1207.3" x2="1530.0" y2="1314.6" stroke="rgba(255,255,255,0.3)" stroke-width="2.2" />
<line x1="1549.3" y1="1148.0" x2="1549.5" y2="1290.0" stroke="rgba(255,255,255,0.3)" stroke-width="2.2" />
<line x1="1325.0" y1="1264.5" x2="1357.0" y2="1247.5" stroke="rgba(255,255,255,0.25)" stroke-width="1.8" />
<line x1="1360.0" y1="1279.0" x2="1392.0" y2="1232.0" stroke="rgba(255,255,255,0.3)" stroke-width="1.8" />
<line x1="1420.0" y1="1220.0" x2="1536.0" y2="1281.0" stroke="rgba(255,255,255,0.3)" stroke-width="2.2" />
<rect x="402" y="412" width="375" height="564" fill="none" stroke="#161616" stroke-width="3"/>
<line x1="590.0" y1="386.0" x2="590.0" y2="412.0" stroke="#161616" stroke-width="2.6" />
<polyline points="227.7,431.8 144.1,873.5 841.3,1246.7 1002.0,1102.0" fill="none" stroke="#161616" stroke-width="2.6" />
<line x1="527.0" y1="1078.5" x2="510.3" y2="1107.0" stroke="#161616" stroke-width="2.6" />
<line x1="255.0" y1="635.5" x2="290.0" y2="636.0" stroke="#161616" stroke-width="2.6" />
<polyline points="972.5,899.2 1058.0,899.2 1058.0,974.5 908.9,974.5" fill="none" stroke="#161616" stroke-width="2.6" />
<line x1="1058.0" y1="938.8" x2="1086.0" y2="938.8" stroke="#161616" stroke-width="2.6" />
<line x1="1207.0" y1="853.5" x2="1207.5" y2="878.6" stroke="#161616" stroke-width="2.6" />
<line x1="1313.4" y1="911.0" x2="1313.4" y2="943.8" stroke="#161616" stroke-width="2.6" />
<polyline points="1470.8,733.2 1470.8,612.8 1638.3,701.3 1638.3,744.5" fill="none" stroke="#161616" stroke-width="2.6" />
<line x1="1538.4" y1="648.5" x2="1538.4" y2="859.7" stroke="#161616" stroke-width="2.6" />
<line x1="1582.4" y1="641.0" x2="1582.4" y2="671.5" stroke="#161616" stroke-width="2.6" />
<line x1="1638.3" y1="781.0" x2="1638.3" y2="923.0" stroke="#161616" stroke-width="2.6" />
<polyline points="1858.0,1106.0 1955.0,1158.2 1879.6,1278.3 1788.5,1230.2" fill="none" stroke="#161616" stroke-width="2.6" />
<line x1="1817.5" y1="1164.8" x2="1953.0" y2="1231.0" stroke="#161616" stroke-width="2.6" />
<polyline points="1456.3,1330.7 1560.9,1381.4 1531.9,1434.2 1424.2,1380.8" fill="none" stroke="#161616" stroke-width="2.6" />
<line x1="1547.4" y1="1408.4" x2="1577.0" y2="1420.0" stroke="#161616" stroke-width="2.6" />
<polyline points="1376.6,1461.8 1488.0,1461.8 1488.0,1516.0 1360.0,1516.0" fill="none" stroke="#161616" stroke-width="2.6" />
<line x1="1488.0" y1="1489.1" x2="1522.0" y2="1489.1" stroke="#161616" stroke-width="2.6" />
<line x1="1123.8" y1="1217.3" x2="1135.4" y2="1243.8" stroke="#161616" stroke-width="2.6" />
<polyline points="1148.6,1405.3 1084.8,1274.4 1201.6,1204.8 1247.2,1292.6" fill="none" stroke="#161616" stroke-width="2.6" />
<line x1="1147.0" y1="1238.0" x2="1189.2" y2="1325.8" stroke="#161616" stroke-width="2.6" />
<line x1="528.8" y1="1296.0" x2="528.8" y2="1344.0" stroke="#161616" stroke-width="2.6" />
<polyline points="0.0,466.0 180.0,466.0 207.0,420.0" fill="none" stroke="#3a3a3a" stroke-width="2.1" stroke-dasharray="7.5 7" />
<polyline points="1167.4,765.1 1048.6,765.1 966.3,870.5" fill="none" stroke="#3a3a3a" stroke-width="2.1" stroke-dasharray="7.5 7" />
<polyline points="1249.5,697.2 1424.6,697.2 1459.9,743.0" fill="none" stroke="#3a3a3a" stroke-width="2.1" stroke-dasharray="7.5 7" />
<polyline points="1863.4,893.3 1701.4,893.3 1673.5,934.2" fill="none" stroke="#3a3a3a" stroke-width="2.1" stroke-dasharray="7.5 7" />
<polyline points="1043.6,1112.2 1074.3,1147.3 1254.8,1147.3" fill="none" stroke="#3a3a3a" stroke-width="2.1" stroke-dasharray="7.5 7" />
<polyline points="1355.9,1552.3 1407.7,1636.5 1568.1,1636.5" fill="none" stroke="#3a3a3a" stroke-width="2.1" stroke-dasharray="7.5 7" />
<circle cx="590.0" cy="368.3" r="18" fill="#fff" stroke="#1a1a1a" stroke-width="2.3"/>
<text transform="translate(590.0 378.1) scale(0.66 1)" font-size="27" font-weight="bold" text-anchor="middle" fill="#111">10</text>
<circle cx="236.5" cy="636.0" r="18" fill="#fff" stroke="#1a1a1a" stroke-width="2.3"/>
<text transform="translate(236.5 645.8) scale(0.66 1)" font-size="27" font-weight="bold" text-anchor="middle" fill="#111">11</text>
<circle cx="501.0" cy="1123.0" r="18" fill="#fff" stroke="#1a1a1a" stroke-width="2.3"/>
<text transform="translate(501.0 1132.8) scale(0.66 1)" font-size="27" font-weight="bold" text-anchor="middle" fill="#111">12</text>
<circle cx="528.8" cy="1277.5" r="18" fill="#fff" stroke="#1a1a1a" stroke-width="2.3"/>
<text transform="translate(528.8 1287.3) scale(0.66 1)" font-size="27" font-weight="bold" text-anchor="middle" fill="#111">13</text>
<circle cx="1582.4" cy="622.5" r="18" fill="#fff" stroke="#1a1a1a" stroke-width="2.3"/>
<text x="1582.4" y="632.7" font-size="28" text-anchor="middle" fill="#111" stroke="#111" stroke-width="1.3">1</text>
<circle cx="1638.3" cy="762.6" r="18" fill="#fff" stroke="#1a1a1a" stroke-width="2.3"/>
<text x="1638.3" y="772.8" font-size="28" text-anchor="middle" fill="#111" stroke="#111" stroke-width="1.3">2</text>
<circle cx="1969.0" cy="1239.3" r="18" fill="#fff" stroke="#1a1a1a" stroke-width="2.3"/>
<text x="1969.0" y="1249.5" font-size="28" text-anchor="middle" fill="#111" stroke="#111" stroke-width="1.3">3</text>
<circle cx="1593.0" cy="1427.0" r="18" fill="#fff" stroke="#1a1a1a" stroke-width="2.3"/>
<text x="1593.0" y="1437.2" font-size="28" text-anchor="middle" fill="#111" stroke="#111" stroke-width="1.3">4</text>
<circle cx="1540.2" cy="1489.1" r="18" fill="#fff" stroke="#1a1a1a" stroke-width="2.3"/>
<text x="1540.2" y="1499.3" font-size="28" text-anchor="middle" fill="#111" stroke="#111" stroke-width="1.3">5</text>
<circle cx="1115.2" cy="1200.7" r="18" fill="#fff" stroke="#1a1a1a" stroke-width="2.3"/>
<text x="1115.2" y="1210.9" font-size="28" text-anchor="middle" fill="#111" stroke="#111" stroke-width="1.3">6</text>
<circle cx="1313.4" cy="893.0" r="18" fill="#fff" stroke="#1a1a1a" stroke-width="2.3"/>
<text x="1313.4" y="903.2" font-size="28" text-anchor="middle" fill="#111" stroke="#111" stroke-width="1.3">7</text>
<circle cx="1207.0" cy="835.5" r="18" fill="#fff" stroke="#1a1a1a" stroke-width="2.3"/>
<text x="1207.0" y="845.7" font-size="28" text-anchor="middle" fill="#111" stroke="#111" stroke-width="1.3">8</text>
<circle cx="1104.0" cy="938.0" r="18" fill="#fff" stroke="#1a1a1a" stroke-width="2.3"/>
<text x="1104.0" y="948.2" font-size="28" text-anchor="middle" fill="#111" stroke="#111" stroke-width="1.3">9</text>
<polygon points="19.0,424.7 34.6,433.7 34.6,451.7 19.0,460.7 3.4,451.7 3.4,433.7" fill="#111" stroke="#111" stroke-width="1.2" stroke-linejoin="round"/>
<text transform="translate(19.0 452.7) scale(0.76 1)" font-size="28" font-weight="bold" text-anchor="middle" fill="#fff">3</text>
<text x="44.5" y="451.5" font-size="26.5" font-weight="bold" fill="#111" textLength="128.5" lengthAdjust="spacingAndGlyphs">2.5 - 5 N·m</text>
<polygon points="1066.2,712.2 1072.6,724.0 1086.1,723.7 1079.1,735.2 1086.1,746.7 1072.6,746.4 1066.2,758.2 1059.8,746.4 1046.3,746.7 1053.3,735.2 1046.3,723.7 1059.8,724.0" fill="#111"/>
<text transform="translate(1066.2 743.0) scale(0.72 1)" font-size="22" font-weight="bold" text-anchor="middle" fill="#fff">10</text>
<text x="1097.8" y="746.1" font-size="26.5" font-weight="bold" fill="#111" textLength="67.8" lengthAdjust="spacingAndGlyphs">1 N·m</text>
<polygon points="1265.3,654.7 1280.9,663.7 1280.9,681.7 1265.3,690.7 1249.7,681.7 1249.7,663.7" fill="#111" stroke="#111" stroke-width="1.2" stroke-linejoin="round"/>
<text transform="translate(1265.3 682.7) scale(0.76 1)" font-size="28" font-weight="bold" text-anchor="middle" fill="#fff">5</text>
<text x="1289.6" y="680.6" font-size="26.5" font-weight="bold" fill="#111" textLength="121.6" lengthAdjust="spacingAndGlyphs">8 - 10 N·m</text>
<polygon points="1716.0,850.7 1731.6,859.7 1731.6,877.7 1716.0,886.7 1700.4,877.7 1700.4,859.7" fill="#111" stroke="#111" stroke-width="1.2" stroke-linejoin="round"/>
<text transform="translate(1716.0 878.7) scale(0.76 1)" font-size="28" font-weight="bold" text-anchor="middle" fill="#fff">5</text>
<text x="1741.8" y="877.3" font-size="26.5" font-weight="bold" fill="#111" textLength="121.6" lengthAdjust="spacingAndGlyphs">8 - 10 N·m</text>
<polygon points="1099.6,1107.3 1115.2,1116.3 1115.2,1134.3 1099.6,1143.3 1084.0,1134.3 1084.0,1116.3" fill="#111" stroke="#111" stroke-width="1.2" stroke-linejoin="round"/>
<text transform="translate(1099.6 1135.3) scale(0.76 1)" font-size="28" font-weight="bold" text-anchor="middle" fill="#fff">3</text>
<text x="1124.8" y="1132.9" font-size="26.5" font-weight="bold" fill="#111" textLength="129.2" lengthAdjust="spacingAndGlyphs">2.5 - 5 N·m</text>
<polygon points="1434.6,1596.0 1450.2,1605.0 1450.2,1623.0 1434.6,1632.0 1419.0,1623.0 1419.0,1605.0" fill="#111" stroke="#111" stroke-width="1.2" stroke-linejoin="round"/>
<text transform="translate(1434.6 1624.0) scale(0.76 1)" font-size="28" font-weight="bold" text-anchor="middle" fill="#fff">4</text>
<text x="1461.5" y="1622.7" font-size="26.5" font-weight="bold" fill="#111" textLength="106.6" lengthAdjust="spacingAndGlyphs">6 - 7 N·m</text>
<polygon points="22.8,1447.8 38.4,1456.8 38.4,1474.8 22.8,1483.8 7.2,1474.8 7.2,1456.8" fill="#111" stroke="#111" stroke-width="1.2" stroke-linejoin="round"/>
<text transform="translate(22.8 1475.8) scale(0.76 1)" font-size="28" font-weight="bold" text-anchor="middle" fill="#fff">3</text>
<text x="62.1" y="1474.2" font-size="26.5" font-weight="bold" fill="#111" textLength="275.4" lengthAdjust="spacingAndGlyphs">3 mm hexagon wrench</text>
<polygon points="22.8,1504.1 38.4,1513.1 38.4,1531.1 22.8,1540.1 7.2,1531.1 7.2,1513.1" fill="#111" stroke="#111" stroke-width="1.2" stroke-linejoin="round"/>
<text transform="translate(22.8 1532.1) scale(0.76 1)" font-size="28" font-weight="bold" text-anchor="middle" fill="#fff">4</text>
<text x="62.1" y="1530.4" font-size="26.5" font-weight="bold" fill="#111" textLength="275.4" lengthAdjust="spacingAndGlyphs">4 mm hexagon wrench</text>
<polygon points="22.8,1560.0 38.4,1569.0 38.4,1587.0 22.8,1596.0 7.2,1587.0 7.2,1569.0" fill="#111" stroke="#111" stroke-width="1.2" stroke-linejoin="round"/>
<text transform="translate(22.8 1588.0) scale(0.76 1)" font-size="28" font-weight="bold" text-anchor="middle" fill="#fff">5</text>
<text x="62.1" y="1586.7" font-size="26.5" font-weight="bold" fill="#111" textLength="275.4" lengthAdjust="spacingAndGlyphs">5 mm hexagon wrench</text>
<polygon points="23.2,1611.3 29.6,1623.1 43.1,1622.8 36.1,1634.3 43.1,1645.8 29.6,1645.5 23.2,1657.3 16.8,1645.5 3.3,1645.8 10.3,1634.3 3.3,1622.8 16.8,1623.1" fill="#111"/>
<text transform="translate(23.2 1642.1) scale(0.72 1)" font-size="22" font-weight="bold" text-anchor="middle" fill="#fff">10</text>
<text x="67.3" y="1643.6" font-size="26.5" font-weight="bold" fill="#111" textLength="203.9" lengthAdjust="spacingAndGlyphs">Hexalobular[#10]</text>
<text x="1006.1" y="1480.4" font-size="22" fill="#1a1a1a" stroke="#1a1a1a" stroke-width="0.3" textLength="147.8" lengthAdjust="spacing">M4 x 18.0mm</text>
<text x="1090.9" y="1524.6" font-size="22" fill="#1a1a1a" stroke="#1a1a1a" stroke-width="0.3" textLength="147.4" lengthAdjust="spacing">M4 x 12.7mm</text>
</g>
</svg>
</body></html>
